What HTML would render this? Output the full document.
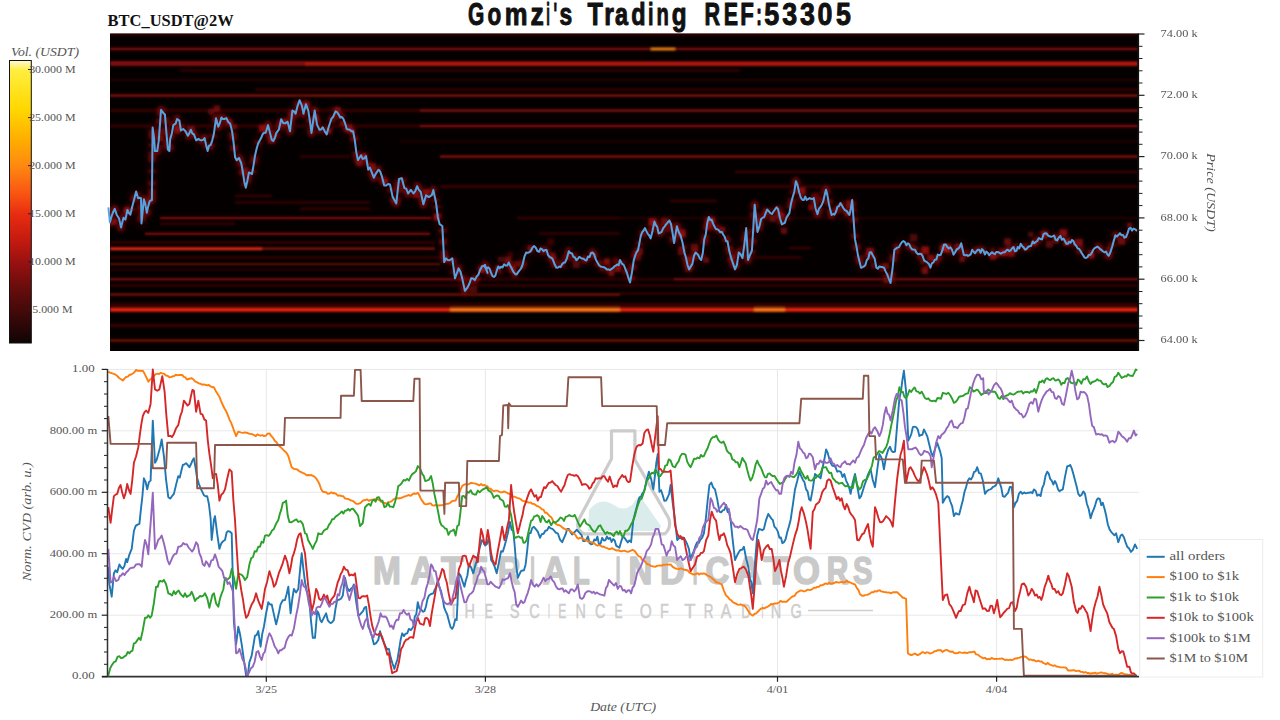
<!DOCTYPE html><html><head><meta charset="utf-8"><style>html,body{margin:0;padding:0;background:#fff;width:1280px;height:720px;overflow:hidden}svg{display:block}</style></head><body>
<svg width="1280" height="720" viewBox="0 0 1280 720" font-family='"Liberation Serif", serif'>
<defs><linearGradient id="cb" x1="0" y1="0" x2="0" y2="1"><stop offset="0" stop-color="#fff8d8"/><stop offset="0.034" stop-color="#ffee40"/><stop offset="0.17" stop-color="#ffd800"/><stop offset="0.28" stop-color="#ffae00"/><stop offset="0.37" stop-color="#ff8a10"/><stop offset="0.476" stop-color="#f85212"/><stop offset="0.547" stop-color="#e62c10"/><stop offset="0.636" stop-color="#c41a10"/><stop offset="0.724" stop-color="#941010"/><stop offset="0.81" stop-color="#660c0c"/><stop offset="0.917" stop-color="#360808"/><stop offset="1" stop-color="#100404"/></linearGradient><filter id="blur2" x="-5%" y="-5%" width="110%" height="110%"><feGaussianBlur stdDeviation="1.6"/></filter><filter id="blur3" x="-5%" y="-20%" width="110%" height="140%"><feGaussianBlur stdDeviation="3"/></filter><filter id="blur1" x="-5%" y="-50%" width="110%" height="200%"><feGaussianBlur stdDeviation="0.85"/></filter><clipPath id="hclip"><rect x="110" y="33.5" width="1029" height="317.5"/></clipPath><clipPath id="bclip"><rect x="107" y="368" width="1033" height="309.5"/></clipPath></defs>
<g font-family='"Liberation Sans", sans-serif' font-size="32" font-weight="bold" fill="#111" stroke="#111" stroke-width="1.0" stroke-linejoin="round"><text transform="translate(468.10,24.9) scale(0.655,1)">G</text><text transform="translate(487.40,24.9) scale(0.703,1)">o</text><text transform="translate(504.70,24.9) scale(0.800,1)">m</text><text transform="translate(530.50,24.9) scale(0.831,1)">z</text><text transform="translate(546.30,24.9) scale(0.404,1)">i</text><text transform="translate(553.40,24.9) scale(0.474,1)">&#39;</text><text transform="translate(559.50,24.9) scale(0.713,1)">s</text><text transform="translate(587.50,24.9) scale(0.785,1)">T</text><text transform="translate(604.30,24.9) scale(0.776,1)">r</text><text transform="translate(615.00,24.9) scale(0.733,1)">a</text><text transform="translate(631.20,24.9) scale(0.733,1)">d</text><text transform="translate(648.00,24.9) scale(0.618,1)">i</text><text transform="translate(656.50,24.9) scale(0.631,1)">n</text><text transform="translate(671.80,24.9) scale(0.759,1)">g</text><text transform="translate(704.50,24.9) scale(0.675,1)">R</text><text transform="translate(723.70,24.9) scale(0.671,1)">E</text><text transform="translate(740.30,24.9) scale(0.697,1)">F</text><text transform="translate(756.30,24.9) scale(0.523,1)">:</text><text transform="translate(764.20,24.9) scale(0.843,1)">5</text><text transform="translate(782.20,24.9) scale(0.837,1)">3</text><text transform="translate(800.10,24.9) scale(0.837,1)">3</text><text transform="translate(817.40,24.9) scale(0.837,1)">0</text><text transform="translate(836.00,24.9) scale(0.837,1)">5</text></g>
<text x="107.6" y="25.5" font-weight="bold" font-size="15.9" textLength="126" lengthAdjust="spacingAndGlyphs" fill="#111">BTC_USDT@2W</text>
<text x="11" y="56" font-style="italic" font-size="12" textLength="68" lengthAdjust="spacingAndGlyphs" fill="#555">Vol. (USDT)</text>
<rect x="9.5" y="60.5" width="21.8" height="282.5" fill="url(#cb)" stroke="#111" stroke-width="1"/>
<line x1="28" x2="31" y1="69.5" y2="69.5" stroke="#222" stroke-width="1"/>
<line x1="28" x2="31" y1="117.6" y2="117.6" stroke="#222" stroke-width="1"/>
<line x1="28" x2="31" y1="165.7" y2="165.7" stroke="#222" stroke-width="1"/>
<line x1="28" x2="31" y1="213.8" y2="213.8" stroke="#222" stroke-width="1"/>
<line x1="28" x2="31" y1="261.9" y2="261.9" stroke="#222" stroke-width="1"/>
<line x1="28" x2="31" y1="310.0" y2="310.0" stroke="#222" stroke-width="1"/>
<text x="52.4" y="72.8" text-anchor="middle" font-size="11.2" textLength="46.5" lengthAdjust="spacingAndGlyphs" fill="#555">30.000 M</text>
<text x="52.4" y="120.9" text-anchor="middle" font-size="11.2" textLength="46.5" lengthAdjust="spacingAndGlyphs" fill="#555">25.000 M</text>
<text x="52.4" y="169.0" text-anchor="middle" font-size="11.2" textLength="46.5" lengthAdjust="spacingAndGlyphs" fill="#555">20.000 M</text>
<text x="52.4" y="217.1" text-anchor="middle" font-size="11.2" textLength="46.5" lengthAdjust="spacingAndGlyphs" fill="#555">15.000 M</text>
<text x="52.4" y="265.2" text-anchor="middle" font-size="11.2" textLength="46.5" lengthAdjust="spacingAndGlyphs" fill="#555">10.000 M</text>
<text x="52.4" y="313.3" text-anchor="middle" font-size="11.2" textLength="40.2" lengthAdjust="spacingAndGlyphs" fill="#555">5.000 M</text>
<rect x="110" y="33.5" width="1029" height="317.5" fill="#040000"/>
<g clip-path="url(#hclip)"><g filter="url(#blur1)">
<rect x="110" y="33.5" width="1028" height="2.0250000000000004" fill="#420504"/>
<rect x="110" y="47.6" width="1028" height="2.7" fill="#7c0c08"/>
<rect x="651" y="47.7" width="24" height="2.6" fill="#ff8a14"/>
<rect x="110" y="61.1" width="195" height="4.8" fill="#820c0a"/>
<rect x="305" y="61.4" width="833" height="4.6" fill="#b01410"/>
<rect x="180" y="69.5" width="560" height="2.0250000000000004" fill="#420504"/>
<rect x="110" y="79.0" width="1028" height="2.0250000000000004" fill="#280303"/>
<rect x="255" y="88.5" width="883" height="2.0250000000000004" fill="#420504"/>
<rect x="110" y="94.2" width="1028" height="2.7" fill="#7c0c08"/>
<rect x="110" y="109.3" width="310" height="2.43" fill="#420504"/>
<rect x="420" y="109.2" width="718" height="2.7" fill="#7c0c08"/>
<rect x="110" y="124.8" width="310" height="2.43" fill="#420504"/>
<rect x="420" y="124.7" width="718" height="2.7" fill="#7c0c08"/>
<rect x="400" y="140.5" width="738" height="2.0250000000000004" fill="#280303"/>
<rect x="300" y="155.5" width="50" height="2.0250000000000004" fill="#420504"/>
<rect x="440" y="155.2" width="698" height="2.7" fill="#7c0c08"/>
<rect x="735" y="170.9" width="403" height="2.16" fill="#420504"/>
<rect x="440" y="185.3" width="698" height="2.43" fill="#420504"/>
<rect x="235" y="195.0" width="37" height="2.0250000000000004" fill="#420504"/>
<rect x="235" y="201.5" width="135" height="2.0250000000000004" fill="#420504"/>
<rect x="300" y="207.7" width="70" height="2.0250000000000004" fill="#420504"/>
<rect x="160" y="216.8" width="272" height="2.43" fill="#7c0c08"/>
<rect x="517" y="217.0" width="103" height="2.0250000000000004" fill="#420504"/>
<rect x="620" y="217.0" width="518" height="2.0250000000000004" fill="#280303"/>
<rect x="160" y="222.7" width="75" height="2.0250000000000004" fill="#420504"/>
<rect x="145" y="232.5" width="285" height="2.43" fill="#7c0c08"/>
<rect x="539" y="232.5" width="81" height="2.0250000000000004" fill="#420504"/>
<rect x="670" y="200.0" width="47" height="2.0250000000000004" fill="#420504"/>
<rect x="752" y="256.5" width="50" height="2.0250000000000004" fill="#420504"/>
<rect x="789" y="247.0" width="22" height="2.0250000000000004" fill="#420504"/>
<rect x="110" y="241.5" width="325" height="2.0250000000000004" fill="#420504"/>
<rect x="110" y="247.3" width="152" height="2.8" fill="#f02a12"/>
<rect x="262" y="247.3" width="173" height="2.7" fill="#7c0c08"/>
<rect x="110" y="256.5" width="330" height="2.0250000000000004" fill="#420504"/>
<rect x="110" y="263.0" width="330" height="2.43" fill="#5a0806"/>
<rect x="110" y="269.0" width="330" height="2.0250000000000004" fill="#280303"/>
<rect x="110" y="278.1" width="370" height="2.43" fill="#7c0c08"/>
<rect x="480" y="278.3" width="194" height="2.0250000000000004" fill="#420504"/>
<rect x="674" y="278.1" width="464" height="2.43" fill="#7c0c08"/>
<rect x="110" y="284.5" width="1028" height="2.0250000000000004" fill="#420504"/>
<rect x="620" y="292.5" width="518" height="2.0250000000000004" fill="#420504"/>
<rect x="110" y="293.3" width="510" height="2.43" fill="#7c0c08"/>
<rect x="110" y="303.0" width="1028" height="3" fill="#3a0606"/>
<rect x="110" y="307.7" width="1028" height="4" fill="#ee220e"/>
<rect x="450" y="307.7" width="170" height="4" fill="#ff7614"/>
<rect x="754" y="307.7" width="31" height="4" fill="#ff7614"/>
<rect x="110" y="324.3" width="1028" height="2.43" fill="#500605"/>
<rect x="110" y="339.3" width="1028" height="2.43" fill="#7c0c08"/>
</g>
<path d="M108.4,207.4 L109.9,222.5 L111.8,215.7 L114.7,208.9 L116.7,214.7 L119.1,218.6 L121.0,227.4 L123.5,217.7 L125.4,219.6 L127.4,209.9 L130.3,214.7 L134.2,199.2 L136.1,191.4 L138.1,198.2 L141.0,198.2 L141.5,223.5 L143.9,199.2 L146.8,212.8 L149.7,201.1 L151.9,200.0 L152.6,127.4 L154.2,138.9 L154.9,151.1 L157.2,151.1 L158.8,140.4 L161.0,109.9 L163.3,112.9 L164.9,114.4 L166.4,132.8 L167.9,149.6 L169.4,151.1 L170.2,138.9 L173.3,125.1 L175.6,123.6 L177.1,119.0 L179.4,120.6 L180.9,130.5 L183.2,129.0 L185.5,131.3 L187.8,135.8 L190.8,129.7 L193.9,134.3 L196.2,140.4 L198.5,138.9 L201.5,140.4 L204.6,138.1 L207.6,151.1 L210.7,145.0 L213.8,134.3 L216.0,118.3 L218.3,126.7 L221.4,117.5 L224.4,119.0 L228.3,122.1 L232.1,131.3 L235.1,157.2 L236.7,160.3 L239.0,158.0 L241.3,163.3 L244.3,181.7 L245.8,187.8 L248.9,172.5 L252.0,174.0 L255.0,155.7 L258.1,143.5 L262.6,134.3 L265.7,132.8 L268.0,125.1 L270.3,134.0 L273.2,140.9 L276.4,132.9 L278.8,129.7 L281.2,119.3 L285.2,123.3 L287.6,121.7 L290.0,131.3 L292.4,110.6 L295.6,113.8 L299.6,100.2 L301.9,105.8 L303.5,113.8 L305.9,104.2 L308.3,110.6 L311.5,132.9 L314.7,110.6 L317.1,124.9 L319.5,129.7 L322.7,127.3 L326.7,134.5 L329.9,123.3 L333.1,117.0 L335.5,111.4 L338.7,114.6 L341.9,117.0 L345.1,123.3 L346.7,128.9 L349.9,129.7 L353.1,131.3 L356.3,152.1 L357.9,160.1 L361.1,155.3 L364.2,158.5 L366.0,156.0 L368.2,169.7 L371.4,171.3 L373.8,177.7 L378.6,169.7 L381.8,176.1 L384.2,185.6 L388.2,184.0 L390.0,184.4 L392.7,197.1 L396.3,203.4 L399.0,179.0 L401.7,178.1 L404.4,188.1 L408.1,193.5 L410.8,189.9 L413.5,193.5 L417.1,186.2 L420.7,191.7 L423.4,204.3 L426.1,195.3 L428.8,197.1 L433.3,189.9 L436.0,202.5 L437.8,216.9 L439.6,224.2 L442.3,226.0 L444.2,262.1 L446.0,258.4 L449.6,260.3 L452.3,258.4 L455.0,278.3 L458.6,268.4 L462.2,278.3 L464.9,290.9 L467.6,287.3 L471.2,278.3 L474.8,280.1 L478.4,274.7 L483.9,265.7 L487.5,272.9 L485.0,265.0 L492.5,276.2 L502.5,267.5 L508.8,262.5 L515.0,273.8 L522.5,265.0 L526.2,252.5 L532.5,247.5 L537.5,251.2 L545.0,250.0 L552.5,258.8 L556.2,267.5 L565.0,262.5 L568.8,251.2 L575.0,257.5 L585.0,260.0 L592.5,252.5 L597.5,262.5 L610.0,270.0 L620.0,260.0 L623.8,265.0 L630.0,282.5 L633.8,260.0 L639.4,243.1 L645.0,228.1 L650.6,238.4 L654.4,221.6 L660.0,232.8 L669.4,220.6 L674.1,243.1 L676.9,226.3 L680.6,235.6 L684.4,252.5 L689.1,269.4 L695.6,252.5 L701.2,260.0 L708.8,216.9 L714.4,226.3 L721.9,231.9 L727.5,241.2 L731.2,258.1 L735.0,269.4 L738.8,252.5 L742.5,258.1 L746.2,228.1 L748.1,260.0 L751.9,250.6 L754.7,204.7 L757.5,231.9 L761.2,218.8 L768.8,211.2 L772.0,214.0 L778.1,209.4 L781.9,224.4 L789.4,213.1 L795.9,181.2 L802.5,200.0 L813.8,198.1 L817.5,214.1 L826.0,189.7 L831.6,215.0 L841.9,205.6 L849.4,215.0 L852.2,200.0 L855.0,239.4 L861.0,267.7 L871.2,252.3 L876.4,267.7 L884.0,267.7 L890.5,283.0 L894.4,249.7 L902.0,242.0 L915.0,249.7 L930.4,267.7 L940.7,254.8 L945.8,244.5 L953.5,254.8 L961.2,243.3 L963.8,254.8 L979.2,249.7 L992.0,252.3 L1005.0,252.3 L1017.8,247.0 L1028.0,247.0 L1035.8,242.0 L1043.5,234.3 L1051.0,236.8 L1063.5,238.6 L1074.8,244.5 L1086.0,258.0 L1097.4,246.7 L1108.7,255.7 L1115.4,235.4 L1124.5,237.7 L1133.5,228.6 L1137.0,231.0" fill="none" stroke="#3a0505" stroke-width="10" stroke-linejoin="round" filter="url(#blur3)" opacity="0.45"/>
<path d="M108.4,207.4 L109.9,222.5 L111.8,215.7 L114.7,208.9 L116.7,214.7 L119.1,218.6 L121.0,227.4 L123.5,217.7 L125.4,219.6 L127.4,209.9 L130.3,214.7 L134.2,199.2 L136.1,191.4 L138.1,198.2 L141.0,198.2 L141.5,223.5 L143.9,199.2 L146.8,212.8 L149.7,201.1 L151.9,200.0 L152.6,127.4 L154.2,138.9 L154.9,151.1 L157.2,151.1 L158.8,140.4 L161.0,109.9 L163.3,112.9 L164.9,114.4 L166.4,132.8 L167.9,149.6 L169.4,151.1 L170.2,138.9 L173.3,125.1 L175.6,123.6 L177.1,119.0 L179.4,120.6 L180.9,130.5 L183.2,129.0 L185.5,131.3 L187.8,135.8 L190.8,129.7 L193.9,134.3 L196.2,140.4 L198.5,138.9 L201.5,140.4 L204.6,138.1 L207.6,151.1 L210.7,145.0 L213.8,134.3 L216.0,118.3 L218.3,126.7 L221.4,117.5 L224.4,119.0 L228.3,122.1 L232.1,131.3 L235.1,157.2 L236.7,160.3 L239.0,158.0 L241.3,163.3 L244.3,181.7 L245.8,187.8 L248.9,172.5 L252.0,174.0 L255.0,155.7 L258.1,143.5 L262.6,134.3 L265.7,132.8 L268.0,125.1 L270.3,134.0 L273.2,140.9 L276.4,132.9 L278.8,129.7 L281.2,119.3 L285.2,123.3 L287.6,121.7 L290.0,131.3 L292.4,110.6 L295.6,113.8 L299.6,100.2 L301.9,105.8 L303.5,113.8 L305.9,104.2 L308.3,110.6 L311.5,132.9 L314.7,110.6 L317.1,124.9 L319.5,129.7 L322.7,127.3 L326.7,134.5 L329.9,123.3 L333.1,117.0 L335.5,111.4 L338.7,114.6 L341.9,117.0 L345.1,123.3 L346.7,128.9 L349.9,129.7 L353.1,131.3 L356.3,152.1 L357.9,160.1 L361.1,155.3 L364.2,158.5 L366.0,156.0 L368.2,169.7 L371.4,171.3 L373.8,177.7 L378.6,169.7 L381.8,176.1 L384.2,185.6 L388.2,184.0 L390.0,184.4 L392.7,197.1 L396.3,203.4 L399.0,179.0 L401.7,178.1 L404.4,188.1 L408.1,193.5 L410.8,189.9 L413.5,193.5 L417.1,186.2 L420.7,191.7 L423.4,204.3 L426.1,195.3 L428.8,197.1 L433.3,189.9 L436.0,202.5 L437.8,216.9 L439.6,224.2 L442.3,226.0 L444.2,262.1 L446.0,258.4 L449.6,260.3 L452.3,258.4 L455.0,278.3 L458.6,268.4 L462.2,278.3 L464.9,290.9 L467.6,287.3 L471.2,278.3 L474.8,280.1 L478.4,274.7 L483.9,265.7 L487.5,272.9 L485.0,265.0 L492.5,276.2 L502.5,267.5 L508.8,262.5 L515.0,273.8 L522.5,265.0 L526.2,252.5 L532.5,247.5 L537.5,251.2 L545.0,250.0 L552.5,258.8 L556.2,267.5 L565.0,262.5 L568.8,251.2 L575.0,257.5 L585.0,260.0 L592.5,252.5 L597.5,262.5 L610.0,270.0 L620.0,260.0 L623.8,265.0 L630.0,282.5 L633.8,260.0 L639.4,243.1 L645.0,228.1 L650.6,238.4 L654.4,221.6 L660.0,232.8 L669.4,220.6 L674.1,243.1 L676.9,226.3 L680.6,235.6 L684.4,252.5 L689.1,269.4 L695.6,252.5 L701.2,260.0 L708.8,216.9 L714.4,226.3 L721.9,231.9 L727.5,241.2 L731.2,258.1 L735.0,269.4 L738.8,252.5 L742.5,258.1 L746.2,228.1 L748.1,260.0 L751.9,250.6 L754.7,204.7 L757.5,231.9 L761.2,218.8 L768.8,211.2 L772.0,214.0 L778.1,209.4 L781.9,224.4 L789.4,213.1 L795.9,181.2 L802.5,200.0 L813.8,198.1 L817.5,214.1 L826.0,189.7 L831.6,215.0 L841.9,205.6 L849.4,215.0 L852.2,200.0 L855.0,239.4 L861.0,267.7 L871.2,252.3 L876.4,267.7 L884.0,267.7 L890.5,283.0 L894.4,249.7 L902.0,242.0 L915.0,249.7 L930.4,267.7 L940.7,254.8 L945.8,244.5 L953.5,254.8 L961.2,243.3 L963.8,254.8 L979.2,249.7 L992.0,252.3 L1005.0,252.3 L1017.8,247.0 L1028.0,247.0 L1035.8,242.0 L1043.5,234.3 L1051.0,236.8 L1063.5,238.6 L1074.8,244.5 L1086.0,258.0 L1097.4,246.7 L1108.7,255.7 L1115.4,235.4 L1124.5,237.7 L1133.5,228.6 L1137.0,231.0" fill="none" stroke="#9a1010" stroke-width="8" stroke-dasharray="6 8 3 4 3 5 5 12 4 6 6 6 8 6 3 6 6 6 3 12 5 6 6 5 10 10 8 5 6 10 12 3 5 8 3 8 10 5 3 6 8 12 3 10 10 4 12 5 5 3 10 5 6 4 8 3 10 4 6 5" stroke-linejoin="round" filter="url(#blur2)" opacity="0.55"/>
<g filter="url(#blur2)"><rect x="104.2" y="196.7" width="5.4" height="5.4" fill="#8a1010" opacity="0.72"/><rect x="111.6" y="218.5" width="6.1" height="6.1" fill="#b01414" opacity="0.71"/><rect x="124.6" y="208.0" width="5.0" height="5.0" fill="#b01414" opacity="0.84"/><rect x="147.0" y="198.1" width="6.1" height="6.1" fill="#8a1010" opacity="0.62"/><rect x="144.6" y="201.0" width="5.7" height="5.7" fill="#8a1010" opacity="0.53"/><rect x="156.7" y="135.5" width="5.9" height="5.9" fill="#9a1212" opacity="0.53"/><rect x="173.8" y="126.8" width="6.8" height="6.8" fill="#b01414" opacity="0.75"/><rect x="174.5" y="120.0" width="5.4" height="5.4" fill="#780c0c" opacity="0.76"/><rect x="187.3" y="126.0" width="7.5" height="7.5" fill="#8a1010" opacity="0.79"/><rect x="208.3" y="108.7" width="6.1" height="6.1" fill="#8a1010" opacity="0.63"/><rect x="213.6" y="105.5" width="6.6" height="6.6" fill="#9a1212" opacity="0.67"/><rect x="226.1" y="119.4" width="6.5" height="6.5" fill="#8a1010" opacity="0.73"/><rect x="231.9" y="124.2" width="5.2" height="5.2" fill="#b01414" opacity="0.58"/><rect x="240.5" y="167.3" width="7.5" height="7.5" fill="#8a1010" opacity="0.67"/><rect x="258.6" y="124.8" width="7.2" height="7.2" fill="#b01414" opacity="0.72"/><rect x="267.6" y="135.8" width="7.9" height="7.9" fill="#8a1010" opacity="0.74"/><rect x="280.2" y="119.3" width="6.4" height="6.4" fill="#8a1010" opacity="0.85"/><rect x="288.5" y="110.4" width="5.9" height="5.9" fill="#8a1010" opacity="0.79"/><rect x="302.1" y="101.5" width="7.8" height="7.8" fill="#9a1212" opacity="0.53"/><rect x="312.5" y="114.2" width="6.1" height="6.1" fill="#b01414" opacity="0.81"/><rect x="326.1" y="128.6" width="5.1" height="5.1" fill="#8a1010" opacity="0.83"/><rect x="334.7" y="106.8" width="6.1" height="6.1" fill="#8a1010" opacity="0.79"/><rect x="340.1" y="120.9" width="5.4" height="5.4" fill="#9a1212" opacity="0.75"/><rect x="344.6" y="123.8" width="8.0" height="8.0" fill="#8a1010" opacity="0.63"/><rect x="349.8" y="128.8" width="5.3" height="5.3" fill="#b01414" opacity="0.72"/><rect x="361.2" y="153.6" width="5.9" height="5.9" fill="#b01414" opacity="0.77"/><rect x="356.4" y="160.1" width="6.2" height="6.2" fill="#9a1212" opacity="0.75"/><rect x="368.5" y="163.0" width="7.3" height="7.3" fill="#b01414" opacity="0.67"/><rect x="382.5" y="178.7" width="5.8" height="5.8" fill="#b01414" opacity="0.64"/><rect x="389.9" y="197.5" width="5.4" height="5.4" fill="#9a1212" opacity="0.53"/><rect x="414.1" y="191.7" width="6.3" height="6.3" fill="#9a1212" opacity="0.59"/><rect x="423.6" y="189.0" width="6.1" height="6.1" fill="#9a1212" opacity="0.81"/><rect x="433.9" y="214.3" width="6.1" height="6.1" fill="#b01414" opacity="0.76"/><rect x="441.4" y="256.1" width="7.1" height="7.1" fill="#9a1212" opacity="0.53"/><rect x="455.3" y="269.3" width="5.9" height="5.9" fill="#8a1010" opacity="0.54"/><rect x="460.9" y="279.8" width="7.9" height="7.9" fill="#780c0c" opacity="0.50"/><rect x="469.9" y="285.8" width="7.6" height="7.6" fill="#780c0c" opacity="0.59"/><rect x="467.8" y="277.0" width="7.0" height="7.0" fill="#780c0c" opacity="0.53"/><rect x="479.4" y="266.8" width="5.1" height="5.1" fill="#b01414" opacity="0.84"/><rect x="495.0" y="265.4" width="5.9" height="5.9" fill="#9a1212" opacity="0.64"/><rect x="497.7" y="256.4" width="5.9" height="5.9" fill="#780c0c" opacity="0.60"/><rect x="504.2" y="256.3" width="6.6" height="6.6" fill="#9a1212" opacity="0.51"/><rect x="507.5" y="251.7" width="5.6" height="5.6" fill="#780c0c" opacity="0.53"/><rect x="509.4" y="266.3" width="6.5" height="6.5" fill="#b01414" opacity="0.75"/><rect x="514.0" y="260.6" width="5.9" height="5.9" fill="#8a1010" opacity="0.57"/><rect x="528.2" y="245.2" width="5.7" height="5.7" fill="#b01414" opacity="0.54"/><rect x="547.2" y="238.5" width="6.8" height="6.8" fill="#780c0c" opacity="0.52"/><rect x="548.4" y="252.5" width="7.1" height="7.1" fill="#9a1212" opacity="0.64"/><rect x="572.5" y="261.0" width="7.2" height="7.2" fill="#8a1010" opacity="0.61"/><rect x="591.0" y="252.3" width="5.2" height="5.2" fill="#780c0c" opacity="0.83"/><rect x="603.8" y="258.6" width="6.1" height="6.1" fill="#b01414" opacity="0.79"/><rect x="599.3" y="265.8" width="6.1" height="6.1" fill="#780c0c" opacity="0.57"/><rect x="612.3" y="257.5" width="6.2" height="6.2" fill="#780c0c" opacity="0.51"/><rect x="608.5" y="270.4" width="5.8" height="5.8" fill="#8a1010" opacity="0.81"/><rect x="614.3" y="264.8" width="6.9" height="6.9" fill="#b01414" opacity="0.76"/><rect x="633.7" y="253.5" width="7.4" height="7.4" fill="#8a1010" opacity="0.51"/><rect x="635.2" y="247.4" width="7.9" height="7.9" fill="#780c0c" opacity="0.78"/><rect x="648.6" y="218.2" width="7.8" height="7.8" fill="#b01414" opacity="0.79"/><rect x="660.8" y="218.0" width="7.3" height="7.3" fill="#8a1010" opacity="0.68"/><rect x="664.1" y="218.8" width="6.9" height="6.9" fill="#780c0c" opacity="0.69"/><rect x="677.7" y="229.2" width="8.0" height="8.0" fill="#b01414" opacity="0.72"/><rect x="677.8" y="247.3" width="7.9" height="7.9" fill="#9a1212" opacity="0.58"/><rect x="685.1" y="264.5" width="7.2" height="7.2" fill="#8a1010" opacity="0.77"/><rect x="687.3" y="256.9" width="5.8" height="5.8" fill="#b01414" opacity="0.57"/><rect x="690.6" y="243.6" width="7.7" height="7.7" fill="#9a1212" opacity="0.61"/><rect x="703.3" y="257.3" width="5.7" height="5.7" fill="#8a1010" opacity="0.73"/><rect x="706.1" y="221.9" width="7.5" height="7.5" fill="#b01414" opacity="0.51"/><rect x="706.6" y="216.8" width="7.9" height="7.9" fill="#9a1212" opacity="0.83"/><rect x="719.7" y="226.5" width="5.8" height="5.8" fill="#8a1010" opacity="0.54"/><rect x="729.0" y="254.3" width="5.6" height="5.6" fill="#b01414" opacity="0.51"/><rect x="757.4" y="218.3" width="5.2" height="5.2" fill="#8a1010" opacity="0.78"/><rect x="763.1" y="207.9" width="6.7" height="6.7" fill="#8a1010" opacity="0.73"/><rect x="769.3" y="214.8" width="7.0" height="7.0" fill="#780c0c" opacity="0.83"/><rect x="777.5" y="212.6" width="6.2" height="6.2" fill="#b01414" opacity="0.73"/><rect x="780.8" y="227.6" width="6.3" height="6.3" fill="#9a1212" opacity="0.65"/><rect x="795.4" y="188.3" width="5.5" height="5.5" fill="#8a1010" opacity="0.52"/><rect x="798.9" y="187.3" width="6.7" height="6.7" fill="#b01414" opacity="0.76"/><rect x="799.6" y="191.0" width="5.5" height="5.5" fill="#8a1010" opacity="0.54"/><rect x="808.4" y="204.8" width="5.6" height="5.6" fill="#9a1212" opacity="0.79"/><rect x="813.1" y="192.3" width="6.8" height="6.8" fill="#780c0c" opacity="0.53"/><rect x="845.1" y="211.5" width="5.1" height="5.1" fill="#9a1212" opacity="0.63"/><rect x="845.8" y="200.2" width="7.7" height="7.7" fill="#8a1010" opacity="0.81"/><rect x="866.3" y="247.7" width="7.5" height="7.5" fill="#b01414" opacity="0.73"/><rect x="870.8" y="262.7" width="6.1" height="6.1" fill="#780c0c" opacity="0.56"/><rect x="882.7" y="263.2" width="6.3" height="6.3" fill="#780c0c" opacity="0.79"/><rect x="883.1" y="277.4" width="6.1" height="6.1" fill="#780c0c" opacity="0.68"/><rect x="893.8" y="248.9" width="5.9" height="5.9" fill="#8a1010" opacity="0.52"/><rect x="909.9" y="234.0" width="7.6" height="7.6" fill="#8a1010" opacity="0.57"/><rect x="919.9" y="258.9" width="5.5" height="5.5" fill="#9a1212" opacity="0.52"/><rect x="921.4" y="246.3" width="7.7" height="7.7" fill="#b01414" opacity="0.82"/><rect x="921.6" y="267.5" width="6.4" height="6.4" fill="#b01414" opacity="0.72"/><rect x="927.5" y="254.7" width="6.2" height="6.2" fill="#b01414" opacity="0.74"/><rect x="940.3" y="244.6" width="6.6" height="6.6" fill="#b01414" opacity="0.84"/><rect x="942.2" y="244.1" width="7.7" height="7.7" fill="#b01414" opacity="0.85"/><rect x="954.0" y="244.3" width="8.0" height="8.0" fill="#9a1212" opacity="0.63"/><rect x="959.4" y="257.2" width="5.1" height="5.1" fill="#b01414" opacity="0.61"/><rect x="989.7" y="253.3" width="6.3" height="6.3" fill="#b01414" opacity="0.81"/><rect x="994.0" y="252.8" width="5.1" height="5.1" fill="#8a1010" opacity="0.70"/><rect x="1000.7" y="249.8" width="6.2" height="6.2" fill="#b01414" opacity="0.71"/><rect x="1006.4" y="246.7" width="5.4" height="5.4" fill="#9a1212" opacity="0.75"/><rect x="1004.2" y="238.4" width="7.0" height="7.0" fill="#b01414" opacity="0.64"/><rect x="1008.1" y="250.1" width="6.7" height="6.7" fill="#b01414" opacity="0.71"/><rect x="1028.3" y="231.7" width="5.2" height="5.2" fill="#8a1010" opacity="0.64"/><rect x="1031.9" y="240.6" width="5.0" height="5.0" fill="#9a1212" opacity="0.55"/><rect x="1041.1" y="231.0" width="6.9" height="6.9" fill="#9a1212" opacity="0.68"/><rect x="1045.7" y="240.6" width="7.2" height="7.2" fill="#780c0c" opacity="0.75"/><rect x="1052.8" y="237.6" width="6.4" height="6.4" fill="#780c0c" opacity="0.56"/><rect x="1059.5" y="229.2" width="7.7" height="7.7" fill="#b01414" opacity="0.75"/><rect x="1063.2" y="238.8" width="7.4" height="7.4" fill="#b01414" opacity="0.60"/><rect x="1075.2" y="238.9" width="7.7" height="7.7" fill="#9a1212" opacity="0.83"/><rect x="1088.4" y="251.2" width="5.7" height="5.7" fill="#780c0c" opacity="0.67"/><rect x="1088.4" y="252.8" width="5.7" height="5.7" fill="#b01414" opacity="0.78"/><rect x="1098.3" y="247.5" width="5.5" height="5.5" fill="#8a1010" opacity="0.51"/><rect x="1106.0" y="246.8" width="5.4" height="5.4" fill="#8a1010" opacity="0.51"/><rect x="1107.5" y="244.9" width="5.2" height="5.2" fill="#8a1010" opacity="0.52"/><rect x="1117.8" y="237.0" width="7.7" height="7.7" fill="#8a1010" opacity="0.81"/><rect x="1126.9" y="222.7" width="5.1" height="5.1" fill="#8a1010" opacity="0.79"/></g>
</g>
<path d="M108.4,207.4 L109.9,222.5 L111.8,215.7 L113.2,211.9 L114.7,208.9 L116.7,214.7 L119.1,218.6 L121.0,227.4 L123.5,217.7 L125.4,219.6 L127.4,209.9 L128.9,213.1 L130.3,214.7 L132.2,206.7 L134.2,199.2 L136.1,191.4 L138.1,198.2 L139.6,197.7 L141.0,198.2 L141.5,223.5 L143.9,199.2 L145.4,204.6 L146.8,212.8 L148.2,206.4 L149.7,201.1 L151.9,200.0 L152.6,127.4 L154.2,138.9 L154.9,151.1 L157.2,151.1 L158.8,140.4 L161.0,109.9 L163.3,112.9 L164.9,114.4 L166.4,132.8 L167.9,149.6 L169.4,151.1 L170.2,138.9 L171.8,133.7 L173.3,125.1 L175.6,123.6 L177.1,119.0 L179.4,120.6 L180.9,130.5 L183.2,129.0 L185.5,131.3 L187.8,135.8 L189.3,133.4 L190.8,129.7 L192.4,133.7 L193.9,134.3 L196.2,140.4 L198.5,138.9 L200.0,140.0 L201.5,140.4 L203.1,139.9 L204.6,138.1 L206.1,145.0 L207.6,151.1 L209.1,145.6 L210.7,145.0 L212.2,140.6 L213.8,134.3 L216.0,118.3 L218.3,126.7 L219.9,122.9 L221.4,117.5 L222.9,119.1 L224.4,119.0 L226.4,118.1 L228.3,122.1 L230.2,123.7 L232.1,131.3 L233.6,142.5 L235.1,157.2 L236.7,160.3 L239.0,158.0 L241.3,163.3 L242.8,171.8 L244.3,181.7 L245.8,187.8 L247.4,180.6 L248.9,172.5 L250.4,173.2 L252.0,174.0 L253.5,165.6 L255.0,155.7 L256.6,148.8 L258.1,143.5 L259.6,140.8 L261.1,138.1 L262.6,134.3 L264.1,132.7 L265.7,132.8 L268.0,125.1 L270.3,134.0 L271.8,140.0 L273.2,140.9 L274.8,138.1 L276.4,132.9 L278.8,129.7 L281.2,119.3 L283.2,123.1 L285.2,123.3 L287.6,121.7 L290.0,131.3 L292.4,110.6 L294.0,111.3 L295.6,113.8 L297.6,105.8 L299.6,100.2 L301.9,105.8 L303.5,113.8 L305.9,104.2 L308.3,110.6 L309.9,121.2 L311.5,132.9 L313.1,121.5 L314.7,110.6 L317.1,124.9 L319.5,129.7 L321.1,129.4 L322.7,127.3 L324.7,131.4 L326.7,134.5 L328.3,128.3 L329.9,123.3 L331.5,118.6 L333.1,117.0 L335.5,111.4 L337.1,112.2 L338.7,114.6 L340.3,117.5 L341.9,117.0 L343.5,119.2 L345.1,123.3 L346.7,128.9 L348.3,129.6 L349.9,129.7 L351.5,131.2 L353.1,131.3 L354.7,139.6 L356.3,152.1 L357.9,160.1 L359.5,157.7 L361.1,155.3 L362.6,158.9 L364.2,158.5 L366.0,156.0 L368.2,169.7 L369.8,167.5 L371.4,171.3 L373.8,177.7 L375.4,174.4 L377.0,171.9 L378.6,169.7 L380.2,171.6 L381.8,176.1 L384.2,185.6 L386.2,185.5 L388.2,184.0 L390.0,184.4 L392.7,197.1 L394.5,200.2 L396.3,203.4 L399.0,179.0 L401.7,178.1 L404.4,188.1 L406.2,188.6 L408.1,193.5 L410.8,189.9 L413.5,193.5 L415.3,191.1 L417.1,186.2 L418.9,190.1 L420.7,191.7 L423.4,204.3 L426.1,195.3 L428.8,197.1 L430.3,196.1 L431.8,195.2 L433.3,189.9 L436.0,202.5 L437.8,216.9 L439.6,224.2 L442.3,226.0 L444.2,262.1 L446.0,258.4 L447.8,259.9 L449.6,260.3 L452.3,258.4 L455.0,278.3 L456.8,273.5 L458.6,268.4 L460.4,271.4 L462.2,278.3 L464.9,290.9 L467.6,287.3 L469.4,283.7 L471.2,278.3 L473.0,278.4 L474.8,280.1 L476.6,276.6 L478.4,274.7 L480.2,269.7 L482.1,266.2 L483.9,265.7 L485.7,268.1 L487.5,272.9 L485.0,265.0 L486.5,269.1 L488.0,267.4 L489.5,268.5 L491.0,272.7 L492.5,276.2 L493.9,277.0 L495.4,275.6 L496.8,270.6 L498.2,266.5 L499.6,268.2 L501.1,266.7 L502.5,267.5 L504.1,264.3 L505.6,265.5 L507.2,265.6 L508.8,262.5 L510.3,265.8 L511.9,268.8 L513.4,271.9 L515.0,273.8 L516.5,274.5 L518.0,272.4 L519.5,270.4 L521.0,268.5 L522.5,265.0 L524.4,256.7 L526.2,252.5 L527.8,252.9 L529.4,252.2 L530.9,250.7 L532.5,247.5 L534.2,246.1 L535.8,247.7 L537.5,251.2 L539.0,251.9 L540.5,248.5 L542.0,249.1 L543.5,251.1 L545.0,250.0 L546.5,249.9 L548.0,255.0 L549.5,256.8 L551.0,257.6 L552.5,258.8 L554.4,263.7 L556.2,267.5 L557.7,267.7 L559.2,266.5 L560.6,267.1 L562.1,264.2 L563.5,262.7 L565.0,262.5 L566.9,258.3 L568.8,251.2 L570.3,253.1 L571.9,253.2 L573.4,256.8 L575.0,257.5 L576.4,260.2 L577.9,258.7 L579.3,256.7 L580.7,257.8 L582.1,258.5 L583.6,258.8 L585.0,260.0 L586.5,260.5 L588.0,256.5 L589.5,257.1 L591.0,252.9 L592.5,252.5 L594.2,254.5 L595.8,259.4 L597.5,262.5 L599.1,265.2 L600.6,266.5 L602.2,266.9 L603.8,267.3 L605.3,267.9 L606.9,269.4 L608.4,269.4 L610.0,270.0 L611.4,269.0 L612.9,268.2 L614.3,266.3 L615.7,265.7 L617.1,264.4 L618.6,265.2 L620.0,260.0 L621.9,263.6 L623.8,265.0 L625.3,268.9 L626.9,272.9 L628.4,277.7 L630.0,282.5 L631.9,272.6 L633.8,260.0 L635.2,255.5 L636.6,252.0 L638.0,250.3 L639.4,243.1 L640.8,235.9 L642.2,232.2 L643.6,230.5 L645.0,228.1 L646.4,231.1 L647.8,233.8 L649.2,235.5 L650.6,238.4 L652.5,230.9 L654.4,221.6 L655.8,225.0 L657.2,226.7 L658.6,233.4 L660.0,232.8 L661.6,231.8 L663.1,228.4 L664.7,226.4 L666.3,224.2 L667.8,222.3 L669.4,220.6 L671.0,224.0 L672.5,232.8 L674.1,243.1 L676.9,226.3 L678.8,232.3 L680.6,235.6 L682.5,242.5 L684.4,252.5 L686.0,257.8 L687.5,265.0 L689.1,269.4 L690.7,266.6 L692.4,263.9 L694.0,255.7 L695.6,252.5 L697.0,253.7 L698.4,255.4 L699.8,258.6 L701.2,260.0 L702.8,253.1 L704.2,239.6 L705.8,234.2 L707.2,223.4 L708.8,216.9 L710.2,220.0 L711.6,219.7 L713.0,223.3 L714.4,226.3 L715.9,229.1 L717.4,229.2 L718.9,230.3 L720.4,232.3 L721.9,231.9 L723.3,234.7 L724.7,236.7 L726.1,241.3 L727.5,241.2 L729.4,251.6 L731.2,258.1 L733.1,263.6 L735.0,269.4 L736.9,265.0 L738.8,252.5 L740.6,254.2 L742.5,258.1 L744.4,244.3 L746.2,228.1 L748.1,260.0 L750.0,255.0 L751.9,250.6 L753.3,227.8 L754.7,204.7 L757.5,231.9 L759.4,226.4 L761.2,218.8 L762.8,217.7 L764.2,217.0 L765.8,212.6 L767.2,209.6 L768.8,211.2 L770.4,213.1 L772.0,214.0 L773.5,211.5 L775.0,209.5 L776.6,207.2 L778.1,209.4 L780.0,218.3 L781.9,224.4 L783.4,223.5 L784.9,222.8 L786.4,217.7 L787.9,215.4 L789.4,213.1 L791.0,203.4 L792.6,197.5 L794.3,191.7 L795.9,181.2 L797.5,185.0 L799.2,192.5 L800.9,197.7 L802.5,200.0 L803.9,199.9 L805.3,196.6 L806.7,199.9 L808.1,199.2 L809.5,198.0 L810.9,198.8 L812.3,199.0 L813.8,198.1 L815.6,208.5 L817.5,214.1 L818.9,208.9 L820.3,207.1 L821.8,204.7 L823.2,201.4 L824.6,195.3 L826.0,189.7 L827.4,195.1 L828.8,203.4 L830.2,209.4 L831.6,215.0 L833.1,214.0 L834.5,214.6 L836.0,211.7 L837.5,206.6 L839.0,206.2 L840.4,203.1 L841.9,205.6 L843.4,208.1 L844.9,210.2 L846.4,210.7 L847.9,212.8 L849.4,215.0 L850.8,208.7 L852.2,200.0 L855.0,239.4 L856.5,246.6 L858.0,255.6 L859.5,261.6 L861.0,267.7 L862.5,267.2 L863.9,266.4 L865.4,265.1 L866.8,259.9 L868.3,258.5 L869.7,252.6 L871.2,252.3 L872.9,255.5 L874.7,258.7 L876.4,267.7 L877.9,268.7 L879.4,266.4 L881.0,267.0 L882.5,267.1 L884.0,267.7 L885.6,271.4 L887.2,274.4 L888.9,279.0 L890.5,283.0 L892.5,269.0 L894.4,249.7 L895.9,248.6 L897.4,247.6 L899.0,247.1 L900.5,244.3 L902.0,242.0 L903.4,241.1 L904.9,242.0 L906.3,245.3 L907.8,243.3 L909.2,244.3 L910.7,247.7 L912.1,249.4 L913.6,249.6 L915.0,249.7 L916.5,252.8 L918.1,254.2 L919.6,253.8 L921.2,253.9 L922.7,256.2 L924.2,260.7 L925.8,261.5 L927.3,262.4 L928.9,263.9 L930.4,267.7 L931.9,263.3 L933.3,262.5 L934.8,259.7 L936.3,259.6 L937.8,254.6 L939.2,255.2 L940.7,254.8 L942.4,250.2 L944.1,244.4 L945.8,244.5 L947.3,247.1 L948.9,248.5 L950.4,247.3 L952.0,249.7 L953.5,254.8 L955.0,252.5 L956.6,249.5 L958.1,248.7 L959.7,247.1 L961.2,243.3 L963.8,254.8 L965.2,255.4 L966.6,254.9 L968.0,255.9 L969.4,255.2 L970.8,254.3 L972.2,249.8 L973.6,251.8 L975.0,253.2 L976.4,251.2 L977.8,249.8 L979.2,249.7 L980.6,252.8 L982.0,249.1 L983.5,250.7 L984.9,254.5 L986.3,251.6 L987.7,252.7 L989.2,255.2 L990.6,253.6 L992.0,252.3 L993.4,253.4 L994.9,254.2 L996.3,251.9 L997.8,252.0 L999.2,252.6 L1000.7,253.7 L1002.1,252.9 L1003.6,252.3 L1005.0,252.3 L1006.4,250.2 L1007.8,249.8 L1009.3,251.2 L1010.7,250.4 L1012.1,248.3 L1013.5,247.0 L1015.0,251.3 L1016.4,250.9 L1017.8,247.0 L1019.3,248.4 L1020.7,243.8 L1022.2,246.3 L1023.6,247.4 L1025.1,249.7 L1026.5,249.0 L1028.0,247.0 L1029.6,246.2 L1031.1,245.9 L1032.7,241.5 L1034.2,243.3 L1035.8,242.0 L1037.3,241.0 L1038.9,238.1 L1040.4,239.0 L1042.0,239.4 L1043.5,234.3 L1045.0,233.2 L1046.5,233.5 L1048.0,235.3 L1049.5,236.3 L1051.0,236.8 L1052.6,236.4 L1054.1,235.5 L1055.7,239.8 L1057.2,240.4 L1058.8,237.5 L1060.4,235.9 L1061.9,239.8 L1063.5,238.6 L1064.9,241.0 L1066.3,243.7 L1067.7,243.8 L1069.2,241.7 L1070.6,242.8 L1072.0,240.0 L1073.4,241.1 L1074.8,244.5 L1076.2,245.7 L1077.6,248.4 L1079.0,248.7 L1080.4,250.7 L1081.8,253.3 L1083.2,255.4 L1084.6,257.6 L1086.0,258.0 L1087.4,257.1 L1088.8,254.9 L1090.3,254.8 L1091.7,253.0 L1093.1,250.0 L1094.6,248.1 L1096.0,247.4 L1097.4,246.7 L1098.8,247.6 L1100.2,249.1 L1101.6,250.1 L1103.1,251.5 L1104.5,252.3 L1105.9,251.5 L1107.3,254.2 L1108.7,255.7 L1110.4,252.2 L1112.1,247.0 L1113.7,240.9 L1115.4,235.4 L1116.9,236.5 L1118.4,235.1 L1120.0,233.2 L1121.5,235.3 L1123.0,235.1 L1124.5,237.7 L1126.0,237.0 L1127.5,233.4 L1129.0,228.6 L1130.5,227.8 L1132.0,230.6 L1133.5,228.6 L1135.2,229.3 L1137.0,231.0" fill="none" stroke="#55a2e0" stroke-width="2.0" stroke-linejoin="round"/>
<line x1="1138.3" x2="1138.3" y1="33.5" y2="351" stroke="#111" stroke-width="1.6"/>
<line x1="1139" x2="1144.5" y1="340.5" y2="340.5" stroke="#222" stroke-width="1.2"/>
<text x="1160.6" y="343.3" font-size="11" textLength="37" lengthAdjust="spacingAndGlyphs" fill="#555">64.00 k</text>
<line x1="1139" x2="1144.5" y1="279.2" y2="279.2" stroke="#222" stroke-width="1.2"/>
<text x="1160.6" y="282.0" font-size="11" textLength="37" lengthAdjust="spacingAndGlyphs" fill="#555">66.00 k</text>
<line x1="1139" x2="1144.5" y1="217.9" y2="217.9" stroke="#222" stroke-width="1.2"/>
<text x="1160.6" y="220.7" font-size="11" textLength="37" lengthAdjust="spacingAndGlyphs" fill="#555">68.00 k</text>
<line x1="1139" x2="1144.5" y1="156.6" y2="156.6" stroke="#222" stroke-width="1.2"/>
<text x="1160.6" y="159.4" font-size="11" textLength="37" lengthAdjust="spacingAndGlyphs" fill="#555">70.00 k</text>
<line x1="1139" x2="1144.5" y1="95.3" y2="95.3" stroke="#222" stroke-width="1.2"/>
<text x="1160.6" y="98.1" font-size="11" textLength="37" lengthAdjust="spacingAndGlyphs" fill="#555">72.00 k</text>
<line x1="1139" x2="1144.5" y1="34.0" y2="34.0" stroke="#222" stroke-width="1.2"/>
<text x="1160.6" y="36.8" font-size="11" textLength="37" lengthAdjust="spacingAndGlyphs" fill="#555">74.00 k</text>
<line x1="1139" x2="1142.5" y1="328.2" y2="328.2" stroke="#222" stroke-width="1"/>
<line x1="1139" x2="1142.5" y1="316.0" y2="316.0" stroke="#222" stroke-width="1"/>
<line x1="1139" x2="1142.5" y1="303.7" y2="303.7" stroke="#222" stroke-width="1"/>
<line x1="1139" x2="1142.5" y1="291.5" y2="291.5" stroke="#222" stroke-width="1"/>
<line x1="1139" x2="1142.5" y1="266.9" y2="266.9" stroke="#222" stroke-width="1"/>
<line x1="1139" x2="1142.5" y1="254.7" y2="254.7" stroke="#222" stroke-width="1"/>
<line x1="1139" x2="1142.5" y1="242.4" y2="242.4" stroke="#222" stroke-width="1"/>
<line x1="1139" x2="1142.5" y1="230.2" y2="230.2" stroke="#222" stroke-width="1"/>
<line x1="1139" x2="1142.5" y1="205.6" y2="205.6" stroke="#222" stroke-width="1"/>
<line x1="1139" x2="1142.5" y1="193.4" y2="193.4" stroke="#222" stroke-width="1"/>
<line x1="1139" x2="1142.5" y1="181.1" y2="181.1" stroke="#222" stroke-width="1"/>
<line x1="1139" x2="1142.5" y1="168.9" y2="168.9" stroke="#222" stroke-width="1"/>
<line x1="1139" x2="1142.5" y1="144.3" y2="144.3" stroke="#222" stroke-width="1"/>
<line x1="1139" x2="1142.5" y1="132.1" y2="132.1" stroke="#222" stroke-width="1"/>
<line x1="1139" x2="1142.5" y1="119.8" y2="119.8" stroke="#222" stroke-width="1"/>
<line x1="1139" x2="1142.5" y1="107.6" y2="107.6" stroke="#222" stroke-width="1"/>
<line x1="1139" x2="1142.5" y1="83.0" y2="83.0" stroke="#222" stroke-width="1"/>
<line x1="1139" x2="1142.5" y1="70.8" y2="70.8" stroke="#222" stroke-width="1"/>
<line x1="1139" x2="1142.5" y1="58.5" y2="58.5" stroke="#222" stroke-width="1"/>
<line x1="1139" x2="1142.5" y1="46.3" y2="46.3" stroke="#222" stroke-width="1"/>
<text transform="translate(1207,192.5) rotate(90)" text-anchor="middle" font-style="italic" font-size="12.2" textLength="78.5" lengthAdjust="spacingAndGlyphs" fill="#555">Price (USDT)</text>
<line x1="107.5" x2="1139" y1="676.6" y2="676.6" stroke="#e8e8e8" stroke-width="1"/>
<line x1="107.5" x2="1139" y1="615.2" y2="615.2" stroke="#e8e8e8" stroke-width="1"/>
<line x1="107.5" x2="1139" y1="553.7" y2="553.7" stroke="#e8e8e8" stroke-width="1"/>
<line x1="107.5" x2="1139" y1="492.3" y2="492.3" stroke="#e8e8e8" stroke-width="1"/>
<line x1="107.5" x2="1139" y1="430.8" y2="430.8" stroke="#e8e8e8" stroke-width="1"/>
<line x1="107.5" x2="1139" y1="369.4" y2="369.4" stroke="#e8e8e8" stroke-width="1"/>
<line x1="266.3" x2="266.3" y1="369.4" y2="676.6" stroke="#e8e8e8" stroke-width="1"/>
<line x1="485.4" x2="485.4" y1="369.4" y2="676.6" stroke="#e8e8e8" stroke-width="1"/>
<line x1="777.5" x2="777.5" y1="369.4" y2="676.6" stroke="#e8e8e8" stroke-width="1"/>
<line x1="996.6" x2="996.6" y1="369.4" y2="676.6" stroke="#e8e8e8" stroke-width="1"/>
<g fill="none" stroke="#cccccc" stroke-width="3.2" stroke-linejoin="round">
<path d="M611.5,458.8 L611.5,430.8 L634.9,430.8 L634.9,459.7 L668.5,518 Q672,527 665,533.8 L584,533.8 Q575,530 579,519 Z"/>
</g>
<path d="M588,531 L589,510 Q600,496 614,505 Q623,512 632,505 Q637,497 640,496 L661,526 Q660,531 655,531 Z" fill="#dbecec"/>
<g font-family='"Liberation Sans", sans-serif' font-weight="bold" font-size="38.5" fill="#c9c9c9" stroke="#c9c9c9" stroke-width="1.6" stroke-linejoin="round"><text transform="translate(372.90,583.6) scale(0.869,1)">M</text><text transform="translate(410.50,583.6) scale(0.892,1)">A</text><text transform="translate(441.00,583.6) scale(0.966,1)">T</text><text transform="translate(471.40,583.6) scale(0.650,1)">E</text><text transform="translate(497.80,583.6) scale(0.820,1)">R</text><text transform="translate(530.30,583.6) scale(0.421,1)">I</text><text transform="translate(542.50,583.6) scale(0.892,1)">A</text><text transform="translate(573.00,583.6) scale(0.711,1)">L</text><text transform="translate(615.80,583.6) scale(0.439,1)">I</text><text transform="translate(628.50,583.6) scale(0.853,1)">N</text><text transform="translate(660.10,583.6) scale(0.892,1)">D</text><text transform="translate(692.80,583.6) scale(0.439,1)">I</text><text transform="translate(705.40,583.6) scale(0.856,1)">C</text><text transform="translate(735.00,583.6) scale(0.964,1)">A</text><text transform="translate(763.40,583.6) scale(1.098,1)">T</text><text transform="translate(793.00,583.6) scale(0.900,1)">O</text><text transform="translate(826.70,583.6) scale(0.777,1)">R</text><text transform="translate(853.10,583.6) scale(0.759,1)">S</text></g>
<g font-family='"Liberation Sans", sans-serif' font-size="20.3" fill="#cdcdcd" stroke="#cdcdcd" stroke-width="0.5"><text transform="translate(448.85,617.5) scale(0.782,1)">T</text><text transform="translate(464.45,617.5) scale(0.714,1)">H</text><text transform="translate(484.75,617.5) scale(0.600,1)">E</text><text transform="translate(509.75,617.5) scale(0.719,1)">S</text><text transform="translate(529.25,617.5) scale(0.714,1)">C</text><text transform="translate(548.05,617.5) scale(0.339,1)">I</text><text transform="translate(558.25,617.5) scale(0.600,1)">E</text><text transform="translate(575.45,617.5) scale(0.707,1)">N</text><text transform="translate(594.95,617.5) scale(0.707,1)">C</text><text transform="translate(614.45,617.5) scale(0.600,1)">E</text><text transform="translate(639.65,617.5) scale(0.759,1)">O</text><text transform="translate(659.95,617.5) scale(0.710,1)">F</text><text transform="translate(684.15,617.5) scale(0.903,1)">T</text><text transform="translate(703.65,617.5) scale(0.660,1)">R</text><text transform="translate(720.85,617.5) scale(0.778,1)">A</text><text transform="translate(741.15,617.5) scale(0.660,1)">D</text><text transform="translate(761.50,617.5) scale(0.330,1)">I</text><text transform="translate(770.85,617.5) scale(0.714,1)">N</text><text transform="translate(790.45,617.5) scale(0.709,1)">G</text></g>
<line x1="372.5" x2="415" y1="610.5" y2="610.5" stroke="#cfcfcf" stroke-width="1.6"/>
<line x1="808" x2="873" y1="610.5" y2="610.5" stroke="#cfcfcf" stroke-width="1.6"/>
<g clip-path="url(#bclip)" fill="none" stroke-width="1.9" stroke-linejoin="round">
<path d="M108.3,566.7 L109.4,584.4 L111.7,596.7 L113.9,573.3 L115.6,570.3 L117.2,572.2 L119.4,564.4 L121.1,567.3 L122.8,568.9 L124.4,566.0 L126.1,558.9 L127.2,562.2 L129.4,554.6 L131.7,548.9 L133.9,531.0 L135.7,525.9 L137.6,524.6 L139.4,523.9 L140.9,509.4 L142.4,496.1 L143.9,478.3 L145.6,481.8 L147.2,489.4 L148.9,482.1 L150.6,480.6 L152.8,420.6 L155.0,462.8 L156.7,459.7 L158.3,453.9 L160.0,447.8 L161.7,439.4 L163.9,456.1 L166.1,479.8 L168.3,497.2 L170.2,498.6 L172.0,496.2 L173.9,493.9 L176.1,484.6 L178.3,476.1 L179.8,477.5 L181.3,470.9 L182.8,465.0 L184.5,464.3 L186.1,463.2 L187.8,465.2 L189.4,467.2 L190.9,464.3 L192.4,460.6 L193.9,458.3 L195.6,468.1 L197.2,478.3 L198.9,483.8 L200.6,488.3 L202.2,491.7 L203.9,495.2 L205.5,496.2 L207.2,496.1 L208.9,504.0 L210.6,518.3 L211.7,540.0 L213.9,520.0 L215.0,516.1 L217.2,533.9 L219.4,548.9 L221.3,543.3 L223.1,541.2 L225.0,540.0 L226.7,532.3 L228.3,531.1 L230.0,531.7 L231.7,533.3 L233.9,622.2 L236.1,644.4 L238.3,626.7 L240.0,634.0 L241.7,644.4 L243.9,660.2 L246.1,675.6 L247.8,675.5 L249.4,662.2 L251.7,655.6 L253.3,645.8 L255.0,635.6 L256.6,635.1 L258.3,631.1 L260.6,646.7 L262.2,634.1 L263.9,626.7 L266.1,613.5 L268.3,602.2 L270.0,604.5 L271.7,604.4 L273.9,614.4 L276.1,624.4 L277.6,618.5 L279.1,611.7 L280.6,604.4 L282.8,600.3 L285.0,600.0 L286.6,594.2 L288.3,586.7 L290.6,613.3 L292.2,599.5 L293.9,588.9 L296.1,592.4 L298.3,588.9 L300.0,570.7 L301.7,553.3 L303.4,569.1 L305.0,582.2 L307.2,592.4 L309.4,602.2 L311.1,621.9 L312.8,637.8 L315.0,637.8 L317.2,611.1 L318.7,613.6 L320.2,619.9 L321.7,622.2 L323.9,617.7 L326.1,613.3 L327.8,620.3 L329.4,622.2 L330.9,623.1 L332.4,621.9 L333.9,620.0 L335.5,608.6 L337.2,600.0 L339.1,599.8 L340.9,598.7 L342.8,595.6 L345.0,577.8 L347.2,587.8 L349.4,591.1 L350.9,588.7 L352.4,587.6 L353.9,584.4 L356.1,601.2 L358.3,615.6 L359.9,614.6 L361.4,612.9 L363.0,611.1 L364.5,607.7 L366.1,606.7 L368.3,626.7 L370.2,630.5 L372.0,636.6 L373.9,644.4 L376.1,643.1 L378.3,640.0 L380.0,631.1 L381.8,637.7 L383.6,641.9 L385.3,645.9 L387.1,649.2 L388.9,648.9 L390.7,657.6 L392.6,663.7 L394.4,668.9 L396.0,663.6 L397.5,659.2 L399.1,649.4 L400.6,640.0 L402.2,633.3 L403.9,636.1 L405.5,633.7 L407.2,633.4 L408.9,628.9 L411.1,630.1 L413.3,626.7 L414.8,616.6 L416.3,614.2 L417.8,602.2 L419.4,608.6 L421.1,609.3 L422.8,611.8 L424.4,611.1 L425.9,606.7 L427.4,599.4 L428.9,595.6 L431.1,594.0 L433.3,593.3 L434.8,589.5 L436.3,587.0 L437.8,580.0 L439.5,587.4 L441.1,591.1 L442.6,598.2 L444.1,607.4 L445.6,611.1 L447.2,614.5 L448.9,621.0 L450.6,627.2 L452.2,628.9 L453.7,625.8 L455.2,619.3 L456.7,620.0 L458.9,573.3 L460.7,575.8 L462.6,581.6 L464.4,586.7 L465.9,580.2 L467.4,575.5 L468.9,564.4 L471.1,567.4 L473.3,573.3 L475.0,566.4 L476.6,561.2 L478.3,553.7 L480.0,546.7 L481.8,540.2 L483.6,542.2 L485.3,545.5 L487.1,543.8 L488.9,537.8 L491.1,560.0 L493.0,562.8 L494.8,567.1 L496.7,573.3 L498.9,562.4 L501.1,551.1 L502.8,551.7 L504.5,546.2 L506.1,540.2 L507.8,533.3 L510.0,522.0 L511.6,529.8 L513.3,531.1 L514.8,547.0 L516.3,566.2 L517.8,577.8 L519.4,574.4 L520.9,571.1 L522.5,570.5 L524.0,570.3 L525.6,564.4 L527.2,550.7 L528.9,533.3 L530.6,533.1 L532.2,528.0 L533.9,526.8 L535.6,528.9 L537.8,531.6 L540.0,537.8 L541.8,534.2 L543.6,533.8 L545.3,530.7 L547.1,530.3 L548.9,526.7 L550.7,528.4 L552.5,528.9 L554.2,530.6 L556.0,532.8 L557.8,533.3 L560.0,539.6 L562.2,542.2 L563.9,538.2 L565.5,534.7 L567.2,529.0 L568.9,528.9 L570.5,532.2 L572.1,534.5 L573.7,532.8 L575.2,531.6 L576.8,529.7 L578.4,531.7 L580.0,533.3 L581.6,535.1 L583.2,541.0 L584.8,541.0 L586.3,539.7 L587.9,536.4 L589.5,543.0 L591.1,544.4 L592.7,543.9 L594.3,539.5 L595.9,540.3 L597.4,536.7 L599.0,544.5 L600.6,543.6 L602.2,537.8 L603.8,540.6 L605.3,540.3 L606.9,536.6 L608.4,539.0 L610.0,537.8 L611.6,541.9 L613.1,539.1 L614.7,540.4 L616.2,545.8 L617.8,546.7 L619.4,547.8 L621.1,541.7 L622.8,536.6 L624.4,537.8 L626.1,540.1 L627.8,542.4 L629.4,540.4 L631.1,542.2 L633.3,520.0 L634.9,513.7 L636.4,508.2 L638.0,501.9 L639.5,497.4 L641.1,496.5 L642.7,492.8 L644.2,491.3 L645.8,484.0 L647.3,477.7 L648.9,471.7 L651.1,478.8 L653.3,489.4 L654.8,477.0 L656.3,462.8 L657.8,453.9 L659.4,491.7 L661.1,490.2 L662.8,495.5 L664.4,500.9 L666.1,500.6 L667.6,497.5 L669.1,494.0 L670.6,485.0 L672.8,503.6 L675.0,520.0 L677.2,540.0 L678.9,538.1 L680.5,538.3 L682.2,537.3 L683.9,537.8 L685.6,541.0 L687.2,544.2 L688.9,548.9 L690.6,560.0 L692.2,554.6 L693.9,550.9 L695.6,545.6 L697.2,542.2 L698.9,542.7 L700.5,539.6 L702.2,537.7 L703.9,533.3 L705.7,520.0 L707.6,501.0 L709.4,485.0 L711.3,482.5 L713.1,487.3 L715.0,489.4 L717.2,499.1 L719.4,511.7 L721.1,512.4 L722.8,510.3 L724.4,509.8 L726.1,505.0 L727.6,512.0 L729.1,512.0 L730.6,520.0 L732.8,540.9 L735.0,560.0 L736.8,556.1 L738.6,552.5 L740.3,550.0 L742.1,549.8 L743.9,546.7 L746.1,558.5 L748.3,566.7 L749.8,577.9 L751.3,582.4 L752.8,593.3 L755.0,562.9 L757.2,535.6 L758.9,528.9 L760.5,529.3 L762.2,530.2 L763.9,528.9 L766.1,519.8 L768.3,513.9 L769.8,516.2 L771.3,518.6 L772.8,520.0 L774.4,526.6 L776.1,528.4 L777.8,531.4 L779.4,537.8 L780.9,537.4 L782.4,543.2 L783.9,542.2 L785.6,539.2 L787.2,532.3 L788.9,526.6 L790.6,520.0 L792.8,505.1 L795.0,489.4 L797.2,481.0 L799.4,471.7 L801.1,475.8 L802.8,479.7 L804.4,482.0 L806.1,489.4 L807.6,491.4 L809.1,499.2 L810.6,500.6 L812.8,488.7 L815.0,473.9 L816.9,475.7 L818.7,476.6 L820.6,478.3 L822.4,468.8 L824.3,459.8 L826.1,449.4 L827.6,452.7 L829.1,458.1 L830.6,462.8 L832.2,465.5 L833.9,466.0 L835.6,467.2 L837.2,471.7 L839.0,471.1 L840.8,471.8 L842.5,476.9 L844.3,474.0 L846.1,480.6 L847.6,483.7 L849.1,487.5 L850.6,493.9 L852.8,482.3 L855.0,473.9 L857.2,486.0 L859.4,498.3 L861.1,496.1 L862.8,490.8 L864.4,485.5 L866.1,480.6 L867.6,475.7 L869.1,472.2 L870.6,469.4 L872.8,480.0 L875.0,487.2 L877.2,470.0 L879.4,453.9 L880.9,456.7 L882.4,460.4 L883.9,469.4 L886.1,456.6 L888.3,449.4 L890.0,446.7 L891.6,451.0 L893.3,452.1 L895.0,451.7 L897.2,424.7 L899.4,398.3 L900.9,391.9 L902.4,380.1 L903.9,370.6 L906.1,391.7 L908.3,440.6 L909.8,437.6 L911.3,434.1 L912.8,427.2 L914.4,426.7 L916.1,427.1 L917.8,429.5 L919.4,436.1 L920.9,435.0 L922.4,434.8 L923.9,429.4 L925.0,431.7 L927.2,436.1 L929.4,445.0 L931.1,452.3 L932.8,456.1 L935.0,449.0 L937.2,442.8 L938.7,447.1 L940.2,451.6 L941.7,458.3 L942.8,502.8 L945.0,498.7 L947.2,496.1 L948.9,497.3 L950.5,502.0 L952.2,506.4 L953.9,516.1 L955.7,513.2 L957.5,514.2 L959.2,514.6 L961.0,507.3 L962.8,500.6 L964.4,492.2 L966.1,487.1 L967.8,480.7 L969.4,478.3 L971.0,479.5 L972.5,476.9 L974.1,471.9 L975.6,471.4 L977.2,467.2 L979.1,473.1 L980.9,473.7 L982.8,480.6 L985.0,493.9 L986.6,491.4 L988.2,490.2 L989.8,489.5 L991.3,488.8 L992.9,486.8 L994.5,486.3 L996.1,485.0 L998.3,478.3 L999.8,483.1 L1001.3,487.7 L1002.8,496.1 L1004.6,496.9 L1006.4,494.7 L1008.1,492.8 L1009.9,486.9 L1011.7,487.2 L1013.9,507.2 L1015.6,502.9 L1017.2,500.8 L1018.9,493.8 L1020.6,491.7 L1022.4,493.8 L1024.1,492.4 L1025.9,493.3 L1027.6,492.8 L1029.4,492.8 L1030.9,492.1 L1032.4,493.2 L1033.9,489.4 L1035.6,490.7 L1037.2,495.7 L1038.9,494.5 L1040.6,496.1 L1042.2,488.1 L1043.9,484.3 L1045.5,475.9 L1047.2,471.7 L1048.7,473.6 L1050.2,478.9 L1051.7,480.6 L1053.3,484.5 L1054.9,481.0 L1056.5,484.2 L1058.0,489.3 L1059.6,491.3 L1061.2,490.1 L1062.8,489.4 L1065.0,476.9 L1067.2,466.1 L1068.7,466.1 L1070.2,464.9 L1071.7,468.3 L1073.3,473.7 L1075.0,480.2 L1076.7,486.7 L1078.3,493.9 L1080.0,496.1 L1081.7,494.7 L1083.3,491.4 L1085.0,493.9 L1086.9,503.7 L1088.7,509.0 L1090.6,518.3 L1092.1,513.2 L1093.7,509.4 L1095.2,505.1 L1096.8,499.7 L1098.3,498.3 L1099.8,498.9 L1101.3,505.2 L1102.8,502.8 L1104.5,508.7 L1106.1,515.3 L1107.8,524.3 L1109.4,528.9 L1111.1,531.8 L1112.8,533.6 L1114.4,535.3 L1116.1,533.3 L1118.3,542.2 L1120.6,535.6 L1122.2,534.5 L1123.9,537.3 L1125.5,542.1 L1127.2,546.7 L1129.1,548.5 L1130.9,551.9 L1132.8,550.0 L1135.0,544.4 L1137.2,548.9" stroke="#1f77b4"/>
<path d="M108.3,371.7 L109.9,372.6 L111.4,373.0 L113.0,373.7 L114.5,374.2 L116.1,375.0 L117.8,376.5 L119.4,378.3 L121.1,379.3 L122.8,380.6 L124.5,378.7 L126.1,377.0 L127.8,376.6 L129.4,375.0 L131.1,374.5 L132.8,373.5 L134.4,372.3 L136.1,369.9 L137.8,370.8 L139.4,370.6 L141.1,371.0 L142.8,370.6 L144.6,373.8 L146.5,377.6 L148.3,381.7 L149.9,379.6 L151.4,378.7 L153.0,376.8 L154.5,375.3 L156.1,373.9 L157.6,373.7 L159.1,374.1 L160.6,372.8 L162.4,373.4 L164.1,373.8 L165.9,375.5 L167.6,375.7 L169.4,377.2 L171.0,377.1 L172.6,376.3 L174.2,376.1 L175.8,374.7 L177.4,375.4 L179.0,374.9 L180.6,375.0 L182.2,374.9 L183.8,376.9 L185.4,377.3 L186.9,379.5 L188.5,379.0 L190.1,378.5 L191.7,378.3 L193.5,379.6 L195.3,381.6 L197.0,382.2 L198.8,383.4 L200.6,383.9 L202.3,384.7 L203.9,384.4 L205.6,385.0 L207.2,385.2 L208.9,385.0 L210.6,386.4 L212.2,387.2 L213.9,387.2 L215.7,390.9 L217.5,393.8 L219.2,396.4 L221.0,400.9 L222.8,405.0 L224.5,408.5 L226.1,411.1 L227.8,415.2 L229.4,419.4 L231.1,422.6 L232.8,427.2 L234.4,431.7 L236.1,436.1 L238.3,431.7 L239.9,432.2 L241.5,432.6 L243.1,432.9 L244.6,432.4 L246.2,432.7 L247.8,433.0 L249.4,433.9 L251.0,433.9 L252.6,434.4 L254.2,435.1 L255.8,436.1 L257.4,434.3 L259.0,435.2 L260.6,435.7 L262.4,435.1 L264.1,436.1 L265.9,435.6 L267.6,433.6 L269.4,433.4 L271.2,435.9 L273.0,437.8 L274.7,440.8 L276.5,442.3 L278.3,445.0 L280.1,446.7 L281.9,448.4 L283.6,450.2 L285.4,451.7 L287.2,453.9 L288.7,457.2 L290.2,462.4 L291.7,467.2 L293.4,468.6 L295.0,469.1 L296.7,469.2 L298.4,470.4 L300.0,471.7 L301.7,472.3 L303.3,473.1 L305.0,473.9 L306.6,475.4 L308.2,475.0 L309.8,475.3 L311.3,475.0 L312.9,475.9 L314.5,476.6 L316.1,478.3 L317.8,480.9 L319.5,484.2 L321.1,489.0 L322.8,491.7 L324.5,492.0 L326.1,492.2 L327.8,493.8 L329.5,493.5 L331.1,492.4 L332.8,493.2 L334.4,493.0 L336.1,493.9 L337.9,495.7 L339.7,495.4 L341.4,496.0 L343.2,496.2 L345.0,498.3 L346.7,498.9 L348.3,499.0 L350.0,500.0 L351.6,500.6 L353.3,501.2 L355.0,502.7 L356.6,503.9 L358.3,503.9 L360.1,503.2 L361.9,501.6 L363.6,500.3 L365.4,500.0 L367.2,499.4 L368.8,500.9 L370.4,500.2 L372.0,499.6 L373.6,499.5 L375.2,499.2 L376.8,499.2 L378.4,499.7 L380.0,500.6 L381.7,502.2 L383.4,502.7 L385.0,503.0 L386.7,503.9 L388.3,502.1 L389.9,501.9 L391.5,501.3 L393.0,499.8 L394.6,498.8 L396.2,498.5 L397.8,498.3 L399.4,498.3 L401.0,498.0 L402.6,497.4 L404.1,496.5 L405.7,496.2 L407.3,495.6 L408.9,495.0 L410.7,495.9 L412.5,494.2 L414.2,493.5 L416.0,493.9 L417.8,492.8 L419.4,495.5 L421.1,499.2 L422.8,501.6 L424.4,503.9 L426.0,504.2 L427.6,504.1 L429.2,503.5 L430.8,503.4 L432.4,505.4 L434.0,505.6 L435.6,505.0 L437.2,505.3 L438.8,505.5 L440.4,505.3 L441.9,505.4 L443.5,504.6 L445.1,504.2 L446.7,503.9 L448.5,503.8 L450.3,502.7 L452.0,501.2 L453.8,500.7 L455.6,500.6 L457.2,496.6 L458.9,493.5 L460.6,489.4 L462.2,486.1 L464.0,484.7 L465.8,484.2 L467.5,484.7 L469.3,483.8 L471.1,482.8 L472.8,483.2 L474.4,483.4 L476.1,483.8 L477.8,484.6 L479.4,485.4 L481.1,484.1 L482.7,485.4 L484.4,485.0 L486.0,485.9 L487.6,486.5 L489.2,488.8 L490.8,488.8 L492.4,490.5 L494.0,491.2 L495.6,490.6 L497.3,490.6 L498.9,491.5 L500.6,492.3 L502.2,492.4 L503.9,491.4 L505.6,492.2 L507.2,492.9 L508.9,493.9 L510.6,494.0 L512.2,496.2 L513.9,496.6 L515.5,497.1 L517.2,497.8 L518.9,498.3 L520.5,499.0 L522.2,500.6 L523.9,501.1 L525.6,501.8 L527.2,502.0 L528.9,502.6 L530.6,502.4 L532.2,503.7 L533.9,503.9 L535.6,505.0 L537.2,506.2 L538.8,506.7 L540.4,507.7 L541.9,509.3 L543.5,509.7 L545.1,512.7 L546.7,512.8 L548.3,514.7 L549.9,516.3 L551.5,517.6 L553.0,520.5 L554.6,522.7 L556.2,524.1 L557.8,525.0 L559.4,525.3 L561.1,526.3 L562.8,527.9 L564.4,528.9 L566.0,529.5 L567.5,529.8 L569.1,530.4 L570.6,531.3 L572.2,532.7 L573.8,533.5 L575.3,534.7 L576.9,537.5 L578.4,538.8 L580.0,537.8 L581.6,538.1 L583.2,539.1 L584.8,539.8 L586.3,540.3 L587.9,541.6 L589.5,541.7 L591.1,542.1 L592.7,542.6 L594.3,543.3 L595.9,544.8 L597.4,545.6 L599.0,545.1 L600.6,545.6 L602.2,546.7 L603.8,546.5 L605.4,547.7 L607.1,548.1 L608.7,549.0 L610.3,549.0 L611.9,548.1 L613.5,549.2 L615.1,549.9 L616.8,550.6 L618.4,550.1 L620.0,551.1 L621.6,551.2 L623.1,550.9 L624.7,550.8 L626.2,551.4 L627.8,551.8 L629.4,551.3 L630.9,550.6 L632.5,549.8 L634.0,550.5 L635.6,552.2 L637.2,554.6 L638.9,556.3 L640.6,556.8 L642.2,560.0 L643.9,560.4 L645.5,562.1 L647.2,564.2 L648.9,564.4 L650.6,565.8 L652.2,566.2 L653.9,566.6 L655.6,566.7 L657.1,565.9 L658.7,565.6 L660.2,565.4 L661.7,565.6 L663.5,564.8 L665.3,564.9 L667.0,564.5 L668.8,564.6 L670.6,564.4 L672.2,566.4 L673.9,567.6 L675.6,568.5 L677.2,568.9 L679.0,569.1 L680.8,568.4 L682.5,569.0 L684.3,569.8 L686.1,570.0 L687.8,570.5 L689.5,572.6 L691.1,573.3 L692.8,574.4 L694.4,574.5 L696.0,574.0 L697.6,573.1 L699.1,574.6 L700.7,573.4 L702.3,573.9 L703.9,573.3 L705.7,574.2 L707.5,575.6 L709.2,576.2 L711.0,577.3 L712.8,578.9 L714.6,580.5 L716.4,582.5 L718.1,582.5 L719.9,583.5 L721.7,584.4 L723.9,590.6 L726.1,595.6 L727.8,597.0 L729.5,599.2 L731.1,600.2 L732.8,602.2 L734.4,603.0 L736.0,603.6 L737.6,604.6 L739.1,604.9 L740.7,604.3 L742.3,605.3 L743.9,605.6 L745.7,607.0 L747.5,609.7 L749.2,612.6 L751.0,614.5 L752.8,615.6 L754.4,614.0 L756.1,613.4 L757.8,611.8 L759.4,610.0 L761.1,608.6 L762.8,608.0 L764.4,608.4 L766.1,607.3 L767.8,606.6 L769.4,605.7 L771.1,604.0 L772.8,604.4 L774.3,603.5 L775.9,603.5 L777.4,603.2 L779.0,602.6 L780.5,600.9 L782.1,601.8 L783.6,601.8 L785.2,601.7 L786.8,601.7 L788.3,600.0 L789.9,598.7 L791.5,597.1 L793.1,596.2 L794.6,595.9 L796.2,593.2 L797.8,592.0 L799.4,591.1 L801.0,590.4 L802.6,590.8 L804.2,591.5 L805.8,590.8 L807.4,589.7 L809.0,589.9 L810.6,590.0 L812.3,589.1 L813.9,587.6 L815.6,587.9 L817.2,586.9 L818.9,586.7 L820.6,585.1 L822.2,585.4 L823.9,584.4 L825.7,583.4 L827.5,584.1 L829.2,582.8 L831.0,583.8 L832.8,583.3 L834.3,583.0 L835.9,582.0 L837.4,582.3 L839.0,582.7 L840.5,582.1 L842.1,582.0 L843.6,582.3 L845.2,582.2 L846.8,580.4 L848.3,582.2 L850.0,582.2 L851.6,583.2 L853.3,584.0 L855.0,584.4 L856.7,587.8 L858.4,589.9 L860.0,594.3 L861.7,595.6 L863.4,595.8 L865.0,595.1 L866.7,594.9 L868.4,594.5 L870.0,593.5 L871.7,592.2 L873.3,592.3 L875.0,591.1 L876.6,591.6 L878.2,590.5 L879.8,590.4 L881.3,591.4 L882.9,591.7 L884.5,592.1 L886.1,592.2 L887.7,592.6 L889.3,592.5 L890.9,593.3 L892.4,592.5 L894.0,592.1 L895.6,592.3 L897.2,592.2 L899.0,594.0 L900.8,595.6 L902.5,597.5 L904.3,598.0 L906.1,598.9 L907.9,653.3 L909.4,654.4 L911.0,655.0 L912.5,654.8 L914.1,653.8 L915.6,653.7 L917.2,655.0 L918.8,654.8 L920.3,653.9 L921.9,652.3 L923.4,652.3 L925.0,653.3 L926.6,652.4 L928.2,652.4 L929.8,653.6 L931.3,653.2 L932.9,652.5 L934.5,651.3 L936.1,651.1 L937.7,650.2 L939.3,650.3 L940.9,650.1 L942.4,652.0 L944.0,650.9 L945.6,650.1 L947.2,650.0 L949.0,651.3 L950.8,651.7 L952.5,651.5 L954.3,653.1 L956.1,653.3 L957.8,653.1 L959.4,652.2 L961.1,652.6 L962.8,652.9 L964.4,652.5 L966.1,652.8 L967.7,653.0 L969.4,652.2 L971.1,652.3 L972.8,651.8 L974.4,651.6 L976.1,654.4 L977.9,654.6 L979.7,656.3 L981.4,657.3 L983.2,658.4 L985.0,657.8 L986.7,659.3 L988.3,658.8 L990.0,659.3 L991.6,658.0 L993.3,658.7 L995.0,659.0 L996.6,658.9 L998.3,658.9 L1000.0,658.8 L1001.6,658.4 L1003.3,659.0 L1005.0,660.0 L1006.7,659.7 L1008.4,660.1 L1010.0,659.7 L1011.7,660.0 L1013.3,659.6 L1014.9,658.5 L1016.5,658.5 L1018.0,657.9 L1019.6,657.7 L1021.2,656.9 L1022.8,656.7 L1024.4,656.4 L1026.0,657.0 L1027.6,658.4 L1029.1,659.7 L1030.7,659.5 L1032.3,660.2 L1033.9,660.0 L1035.5,661.0 L1037.0,661.4 L1038.6,660.7 L1040.1,661.6 L1041.7,661.5 L1043.2,663.0 L1044.8,663.7 L1046.3,664.3 L1047.9,662.8 L1049.4,664.4 L1051.2,665.0 L1053.0,665.8 L1054.7,665.3 L1056.5,666.6 L1058.3,666.7 L1059.9,667.2 L1061.5,667.4 L1063.2,667.4 L1064.8,667.4 L1066.4,668.0 L1068.0,670.5 L1069.6,670.4 L1071.2,670.5 L1072.9,670.3 L1074.5,670.3 L1076.1,671.1 L1077.7,670.9 L1079.2,670.8 L1080.8,671.9 L1082.3,671.9 L1083.9,672.7 L1085.5,672.0 L1087.0,673.0 L1088.6,673.0 L1090.1,673.6 L1091.7,673.3 L1093.3,673.3 L1094.9,672.7 L1096.5,673.6 L1098.0,673.1 L1099.6,672.9 L1101.2,672.4 L1102.8,672.9 L1104.4,673.2 L1106.0,673.3 L1107.6,673.9 L1109.1,674.4 L1110.7,674.2 L1112.3,673.8 L1113.9,675.1 L1115.6,674.7 L1117.2,674.8 L1118.9,674.5 L1120.6,673.3 L1122.1,673.0 L1123.7,673.8 L1125.2,674.2 L1126.8,674.5 L1128.3,674.9 L1129.9,674.7 L1131.4,675.1 L1133.0,675.8 L1134.5,675.4 L1136.1,675.6" stroke="#ff7f0e"/>
<path d="M108.3,675.6 L110.2,668.3 L112.0,664.9 L113.9,662.2 L115.7,661.4 L117.5,656.8 L119.2,656.2 L121.0,658.0 L122.8,657.8 L124.5,656.3 L126.1,655.5 L127.8,651.9 L129.4,653.3 L130.9,651.4 L132.4,650.9 L133.9,643.3 L135.6,642.8 L137.2,640.4 L138.9,637.8 L140.6,640.0 L142.8,630.2 L145.0,617.8 L146.7,617.7 L148.3,615.3 L150.0,617.8 L151.7,615.6 L153.9,603.0 L156.1,586.7 L157.7,586.9 L159.2,581.3 L160.8,581.0 L162.3,581.7 L163.9,580.0 L166.1,584.3 L168.3,593.3 L170.2,594.0 L172.0,595.5 L173.9,591.1 L175.5,594.1 L177.1,591.8 L178.7,590.6 L180.2,593.5 L181.8,595.3 L183.4,596.9 L185.0,593.3 L186.7,596.9 L188.3,595.9 L190.0,595.0 L191.7,591.8 L193.3,595.6 L195.0,601.0 L196.6,598.7 L198.3,597.8 L200.0,596.0 L201.7,596.5 L203.3,595.7 L205.0,593.3 L207.2,598.0 L209.4,607.8 L210.9,601.1 L212.4,594.9 L213.9,593.3 L216.1,603.5 L218.3,606.7 L220.0,598.6 L221.7,593.5 L223.3,589.5 L225.0,577.8 L226.7,580.1 L228.3,578.7 L230.0,577.3 L231.7,568.9 L233.9,577.5 L236.1,588.9 L238.3,573.3 L240.0,574.2 L241.7,574.8 L243.3,576.7 L245.0,580.0 L247.2,577.2 L249.4,564.4 L251.2,558.3 L253.0,557.0 L254.7,551.2 L256.5,551.5 L258.3,546.7 L260.0,546.7 L261.6,541.7 L263.3,542.8 L265.0,535.6 L266.8,535.1 L268.6,536.0 L270.3,533.9 L272.1,530.4 L273.9,528.9 L276.1,523.7 L278.3,520.0 L279.8,513.9 L281.3,509.6 L282.8,502.8 L284.5,502.1 L286.1,500.6 L287.8,516.1 L289.4,522.0 L291.2,522.4 L293.0,521.3 L294.7,520.2 L296.5,519.4 L298.3,522.0 L300.6,521.0 L302.8,524.1 L305.0,533.3 L306.6,534.0 L308.1,540.0 L309.7,543.0 L311.2,545.6 L312.8,548.9 L314.6,544.4 L316.5,541.0 L318.3,533.3 L320.1,534.1 L321.9,534.0 L323.6,530.9 L325.4,529.4 L327.2,528.9 L328.9,524.8 L330.5,522.9 L332.2,519.2 L333.9,519.0 L335.5,516.7 L337.1,515.6 L338.7,514.4 L340.2,513.1 L341.8,511.4 L343.4,513.6 L345.0,510.6 L346.6,510.5 L348.2,509.0 L349.8,510.7 L351.3,509.2 L352.9,508.6 L354.5,510.7 L356.1,512.8 L358.1,515.8 L360.0,526.0 L362.8,523.0 L365.0,507.4 L367.2,505.0 L368.9,503.9 L370.6,505.7 L372.2,501.0 L373.9,499.7 L375.6,501.7 L377.2,497.4 L378.9,497.1 L380.6,500.6 L382.5,500.8 L384.4,507.2 L386.2,506.3 L388.0,502.8 L389.7,506.5 L391.5,506.6 L393.3,507.2 L395.0,502.1 L396.6,495.7 L398.3,486.1 L400.0,485.0 L401.8,483.1 L403.6,480.0 L405.3,480.6 L407.1,478.8 L408.9,480.6 L410.7,476.6 L412.5,473.8 L414.2,472.9 L416.0,471.1 L417.8,466.1 L420.0,468.3 L422.2,473.9 L423.7,475.8 L425.2,481.1 L426.7,480.6 L428.9,479.8 L431.1,476.1 L432.8,483.8 L434.4,493.9 L436.3,502.8 L438.1,511.7 L440.0,522.0 L441.7,525.5 L443.4,526.5 L445.0,528.5 L446.7,528.9 L448.5,534.9 L450.3,531.4 L452.0,530.8 L453.8,529.6 L455.6,535.6 L457.2,526.3 L458.9,525.0 L460.5,511.6 L462.2,496.1 L463.9,496.0 L465.5,498.1 L467.2,491.7 L468.9,492.8 L470.7,490.3 L472.5,493.7 L474.2,494.5 L476.0,494.5 L477.8,490.6 L479.6,492.2 L481.4,490.6 L483.1,489.3 L484.9,488.3 L486.7,487.2 L488.5,490.7 L490.3,491.4 L492.0,493.5 L493.8,497.8 L495.6,496.1 L497.1,495.5 L498.7,495.9 L500.2,499.2 L501.7,499.9 L503.2,501.0 L504.8,506.6 L506.3,506.8 L507.8,505.0 L509.5,509.6 L511.1,515.0 L512.6,524.7 L514.1,536.4 L515.6,537.8 L517.2,536.9 L518.8,536.4 L520.4,537.9 L521.9,537.3 L523.5,542.8 L525.1,542.6 L526.7,540.0 L528.9,530.0 L531.1,520.6 L532.6,520.0 L534.1,516.5 L535.6,516.1 L537.3,515.2 L538.9,516.5 L540.6,522.0 L542.2,516.0 L543.9,518.3 L545.6,521.6 L547.2,522.4 L548.9,520.0 L551.1,525.2 L553.3,521.7 L555.1,522.6 L556.9,521.5 L558.6,520.0 L560.4,517.5 L562.2,518.3 L564.0,520.9 L565.8,516.7 L567.5,516.3 L569.3,515.1 L571.1,516.1 L572.9,516.4 L574.7,514.9 L576.4,518.7 L578.2,522.8 L580.0,526.7 L582.2,523.0 L584.4,519.4 L586.2,523.4 L588.0,524.7 L589.7,525.5 L591.5,528.9 L593.3,531.1 L595.1,532.0 L596.9,529.2 L598.6,526.2 L600.4,525.3 L602.2,528.9 L603.9,531.4 L605.5,533.9 L607.2,532.0 L608.9,533.3 L610.5,533.2 L612.1,534.5 L613.7,536.0 L615.2,532.7 L616.8,531.6 L618.4,534.2 L620.0,531.1 L621.8,535.9 L623.6,536.2 L625.3,530.8 L627.1,530.8 L628.9,528.9 L631.1,524.4 L633.3,520.6 L635.0,515.4 L636.6,509.2 L638.3,503.9 L640.0,499.6 L641.7,498.7 L643.4,493.7 L645.0,488.2 L646.7,480.6 L648.5,478.8 L650.3,474.9 L652.0,472.7 L653.8,473.5 L655.6,469.4 L657.1,472.5 L658.7,476.7 L660.2,476.1 L661.7,473.9 L663.5,471.7 L665.3,465.6 L667.0,465.1 L668.8,459.4 L670.6,460.6 L672.8,466.3 L675.0,467.2 L676.8,463.7 L678.6,461.4 L680.3,456.3 L682.1,453.9 L683.9,453.9 L685.6,454.9 L687.2,461.6 L688.9,464.9 L690.6,467.2 L692.4,463.2 L694.1,458.6 L695.9,458.9 L697.6,457.5 L699.4,458.3 L700.9,454.9 L702.4,456.6 L703.9,456.1 L705.7,451.9 L707.5,448.5 L709.2,443.6 L711.0,439.2 L712.8,437.2 L714.6,437.1 L716.4,435.6 L718.1,439.7 L719.9,442.0 L721.7,442.8 L723.5,441.6 L725.3,445.6 L727.0,450.9 L728.8,452.9 L730.6,453.9 L732.4,459.4 L734.1,460.2 L735.9,462.4 L737.6,462.2 L739.4,467.2 L740.9,462.8 L742.4,457.9 L743.9,460.6 L745.6,463.0 L747.2,469.7 L748.9,476.1 L750.6,480.6 L752.2,478.0 L753.9,472.2 L755.6,464.5 L757.2,460.6 L758.7,464.2 L760.2,466.5 L761.7,469.4 L763.3,473.9 L764.9,477.2 L766.5,477.4 L768.0,473.8 L769.6,473.4 L771.2,475.1 L772.8,476.1 L774.6,476.0 L776.4,479.0 L778.1,481.6 L779.9,484.0 L781.7,482.8 L783.5,482.3 L785.3,478.8 L787.0,476.4 L788.8,475.9 L790.6,476.1 L792.4,476.7 L794.1,477.0 L795.9,475.2 L797.6,472.1 L799.4,467.2 L801.0,471.0 L802.6,473.7 L804.2,477.0 L805.8,478.8 L807.4,475.9 L809.0,480.1 L810.6,480.6 L812.2,480.5 L813.9,478.0 L815.6,478.1 L817.2,476.1 L819.0,475.0 L820.8,472.8 L822.5,467.5 L824.3,467.4 L826.1,467.2 L827.8,470.8 L829.5,473.1 L831.1,472.6 L832.8,478.3 L834.4,479.7 L836.0,481.9 L837.6,482.5 L839.1,483.7 L840.7,483.2 L842.3,482.8 L843.9,485.0 L845.6,486.4 L847.2,485.9 L848.9,486.9 L850.6,487.2 L852.8,488.2 L855.0,476.1 L857.2,485.3 L859.4,489.4 L861.2,487.4 L863.0,481.2 L864.7,480.0 L866.5,479.5 L868.3,476.1 L870.1,470.4 L871.9,466.0 L873.6,457.6 L875.4,456.6 L877.2,453.9 L879.0,451.1 L880.8,451.8 L882.5,452.9 L884.3,449.9 L886.1,447.2 L887.8,442.2 L889.5,434.5 L891.1,426.1 L892.8,418.3 L894.4,410.1 L896.1,400.8 L897.8,396.5 L899.4,387.2 L901.1,392.0 L902.8,391.8 L904.4,396.7 L906.1,398.3 L907.8,394.8 L909.5,390.1 L911.1,392.0 L912.8,389.4 L914.6,387.4 L916.4,391.3 L918.1,391.7 L919.9,393.6 L921.7,391.7 L923.4,394.8 L925.0,398.1 L926.6,399.0 L928.3,398.3 L930.2,400.6 L932.0,401.2 L933.9,400.6 L935.7,401.5 L937.5,398.0 L939.2,398.3 L941.0,398.7 L942.8,392.8 L944.6,393.4 L946.5,394.0 L948.3,392.8 L950.2,395.3 L952.0,398.4 L953.9,402.8 L955.7,401.8 L957.5,399.6 L959.2,396.7 L961.0,396.3 L962.8,396.1 L964.6,394.7 L966.4,393.7 L968.1,393.3 L969.9,387.3 L971.7,388.3 L973.3,391.5 L974.9,390.9 L976.5,389.7 L978.0,390.2 L979.6,392.5 L981.2,394.9 L982.8,393.9 L984.6,393.0 L986.4,393.1 L988.1,389.4 L989.9,390.7 L991.7,391.7 L993.4,391.8 L995.0,391.7 L996.7,394.5 L998.4,398.1 L1000.0,398.8 L1001.7,395.9 L1003.3,399.1 L1005.0,396.1 L1006.7,395.5 L1008.3,394.9 L1010.0,393.2 L1011.6,394.1 L1013.3,394.6 L1015.0,393.8 L1016.6,392.4 L1018.3,391.7 L1019.9,391.6 L1021.5,391.1 L1023.1,393.6 L1024.6,392.1 L1026.2,392.0 L1027.8,392.0 L1029.4,392.8 L1031.1,391.2 L1032.8,391.5 L1034.4,389.1 L1036.1,392.8 L1037.8,387.5 L1039.4,381.7 L1041.0,382.1 L1042.5,380.4 L1044.1,382.8 L1045.6,379.1 L1047.2,378.3 L1048.8,379.6 L1050.4,380.2 L1052.0,378.6 L1053.5,378.3 L1055.1,380.5 L1056.7,380.2 L1058.3,379.4 L1059.8,381.2 L1061.3,384.8 L1062.8,382.8 L1064.5,383.2 L1066.1,378.9 L1067.8,378.1 L1069.4,380.6 L1071.1,382.9 L1072.8,383.2 L1074.4,382.0 L1076.1,385.0 L1077.9,379.6 L1079.7,381.1 L1081.4,383.7 L1083.2,379.2 L1085.0,379.4 L1086.9,376.4 L1088.7,380.9 L1090.6,383.9 L1092.3,382.0 L1093.9,381.5 L1095.6,380.9 L1097.3,379.2 L1098.9,380.6 L1100.6,380.6 L1102.4,383.4 L1104.1,384.5 L1105.9,383.7 L1107.6,387.0 L1109.4,386.1 L1111.2,383.5 L1113.0,382.0 L1114.7,376.9 L1116.5,376.1 L1118.3,372.8 L1120.0,375.2 L1121.7,377.9 L1123.3,377.2 L1125.0,376.1 L1126.5,376.6 L1128.0,374.2 L1129.6,375.5 L1131.1,375.7 L1132.6,376.1 L1134.2,373.1 L1135.7,369.5 L1137.2,370.6" stroke="#2ca02c"/>
<path d="M108.3,507.2 L110.6,522.8 L112.2,509.3 L113.9,496.1 L115.6,494.6 L117.2,493.9 L118.9,487.9 L120.6,485.0 L122.2,492.6 L123.9,498.3 L125.6,493.1 L127.2,483.9 L128.9,490.0 L130.6,493.9 L132.2,480.7 L133.9,462.8 L136.1,456.2 L138.3,447.2 L139.8,435.1 L141.3,424.4 L142.8,416.1 L144.4,412.3 L146.1,410.6 L148.3,412.8 L150.6,403.9 L152.8,369.4 L155.0,389.4 L157.2,390.8 L159.4,389.4 L162.3,376.1 L164.6,391.7 L166.4,415.7 L168.3,436.1 L170.2,435.9 L172.0,437.0 L173.9,433.9 L176.1,428.2 L178.3,425.0 L180.2,416.4 L182.0,411.5 L183.9,400.6 L185.7,403.0 L187.6,405.6 L189.4,403.9 L190.9,396.2 L192.4,389.9 L193.9,390.6 L196.1,411.7 L198.3,400.6 L200.6,413.9 L202.4,414.4 L204.3,419.4 L206.1,420.6 L207.8,440.6 L209.4,453.9 L211.1,465.4 L212.8,478.3 L214.4,474.1 L216.1,473.9 L217.8,484.9 L219.4,500.6 L221.3,494.7 L223.1,493.1 L225.0,489.4 L227.2,478.8 L229.4,469.4 L231.7,471.7 L233.3,499.5 L235.0,520.0 L236.7,548.7 L238.3,573.3 L239.9,581.2 L241.4,591.0 L243.0,599.7 L244.5,610.3 L246.1,617.8 L248.0,615.4 L249.8,609.3 L251.7,604.4 L253.9,600.7 L256.1,593.3 L258.0,599.9 L259.8,604.3 L261.7,608.9 L263.4,599.5 L265.0,588.9 L267.2,581.4 L269.4,571.1 L270.9,575.9 L272.4,580.0 L273.9,586.7 L275.6,584.5 L277.2,579.1 L278.9,572.9 L280.6,568.9 L282.8,563.1 L285.0,555.6 L287.2,561.7 L289.4,573.3 L290.9,566.3 L292.4,557.1 L293.9,553.3 L295.6,547.0 L297.2,539.1 L298.9,534.6 L300.6,533.3 L302.8,544.5 L305.0,553.3 L306.6,569.8 L308.3,586.7 L310.0,596.5 L311.7,611.1 L313.9,603.0 L316.1,588.9 L317.6,591.9 L319.1,598.8 L320.6,600.0 L322.2,598.3 L323.9,594.6 L325.6,598.6 L327.2,595.6 L329.4,604.4 L331.1,599.8 L332.8,597.7 L334.4,595.7 L336.1,588.9 L337.7,582.4 L339.2,579.0 L340.8,573.9 L342.3,571.4 L343.9,566.7 L345.7,569.7 L347.6,570.2 L349.4,575.6 L351.3,574.6 L353.1,575.4 L355.0,573.3 L356.6,585.2 L358.3,597.8 L360.1,598.4 L361.9,596.5 L363.6,596.1 L365.4,596.5 L367.2,595.6 L368.9,604.9 L370.5,616.1 L372.2,625.6 L373.9,631.1 L375.4,633.9 L376.9,634.8 L378.5,634.5 L380.0,633.3 L382.2,636.9 L384.4,644.4 L385.9,649.1 L387.4,654.7 L388.9,653.3 L390.5,664.5 L392.2,673.3 L393.7,672.3 L395.2,671.6 L396.7,671.1 L398.9,662.3 L401.1,648.9 L402.8,646.5 L404.4,642.2 L406.2,639.6 L408.0,639.2 L409.7,637.4 L411.5,637.1 L413.3,637.8 L414.8,629.1 L416.3,621.7 L417.8,617.8 L420.0,623.6 L422.2,624.4 L423.7,624.7 L425.2,618.2 L426.7,617.8 L428.4,619.7 L430.0,626.0 L431.6,614.0 L433.3,604.4 L434.8,596.1 L436.3,586.4 L437.8,582.2 L440.0,576.8 L442.2,568.9 L443.7,570.4 L445.2,577.5 L446.7,582.2 L448.9,594.6 L451.1,604.4 L452.6,601.7 L454.1,598.5 L455.6,597.8 L457.2,583.2 L458.9,568.9 L460.7,564.8 L462.6,556.1 L464.4,555.6 L465.9,556.2 L467.4,562.4 L468.9,566.7 L471.1,560.8 L473.3,555.6 L474.8,557.0 L476.3,557.6 L477.8,562.2 L479.5,543.8 L481.1,528.9 L482.8,534.9 L484.4,544.4 L486.1,542.4 L487.8,530.0 L489.5,540.1 L491.1,553.3 L492.6,559.8 L494.1,563.2 L495.6,564.4 L497.8,551.0 L500.0,539.4 L502.2,526.7 L504.4,540.0 L505.9,533.8 L507.4,526.2 L508.9,520.0 L511.1,485.0 L512.6,500.0 L514.1,511.5 L515.6,520.6 L517.8,533.3 L519.4,527.3 L520.9,520.9 L522.5,515.3 L524.0,506.9 L525.6,502.8 L527.4,497.4 L529.3,492.1 L531.1,489.4 L532.8,493.1 L534.5,496.7 L536.1,495.1 L537.8,500.6 L539.4,497.2 L541.0,497.0 L542.6,491.3 L544.1,487.2 L545.7,488.1 L547.3,485.2 L548.9,482.8 L550.6,482.5 L552.2,481.1 L553.9,483.2 L555.6,485.0 L557.4,486.0 L559.3,489.2 L561.1,491.7 L562.8,488.3 L564.5,485.2 L566.1,479.6 L567.8,475.0 L569.5,474.2 L571.1,474.9 L572.8,475.1 L574.5,475.9 L576.1,475.0 L577.8,476.1 L580.0,479.9 L582.2,485.0 L584.0,484.2 L585.8,484.1 L587.5,485.6 L589.3,488.7 L591.1,487.2 L592.6,483.5 L594.1,482.0 L595.6,478.3 L597.4,478.7 L599.1,478.1 L600.9,478.7 L602.6,476.4 L604.4,476.1 L606.2,479.4 L608.0,481.7 L609.7,476.6 L611.5,482.3 L613.3,487.2 L615.1,485.5 L616.9,486.6 L618.6,480.2 L620.4,477.8 L622.2,475.0 L623.8,477.1 L625.3,476.2 L626.9,480.6 L628.4,482.1 L630.0,481.7 L632.2,466.5 L634.4,453.9 L635.9,448.4 L637.4,445.8 L638.9,445.0 L640.7,445.2 L642.6,443.5 L644.4,432.8 L646.3,430.2 L648.1,429.4 L650.0,436.1 L651.6,444.3 L653.3,451.7 L655.5,433.8 L657.7,416.1 L659.0,469.4 L660.6,468.9 L662.3,471.5 L663.9,471.7 L665.6,471.7 L667.2,471.9 L668.9,471.8 L670.6,470.6 L672.8,495.8 L675.0,525.0 L677.2,533.3 L678.9,536.9 L680.5,536.0 L682.2,539.2 L683.9,537.8 L685.6,547.9 L687.2,555.5 L688.9,563.7 L690.6,571.1 L692.8,567.8 L695.0,564.4 L697.2,556.4 L699.4,555.6 L700.9,552.9 L702.4,552.8 L703.9,551.1 L706.1,540.2 L708.3,535.6 L710.0,520.2 L711.7,511.7 L713.9,517.7 L716.1,520.6 L717.8,532.2 L719.4,540.0 L720.9,535.1 L722.4,535.0 L723.9,533.3 L725.6,538.1 L727.2,545.1 L728.9,548.7 L730.6,553.3 L732.8,567.4 L735.0,582.2 L737.2,574.0 L739.4,568.9 L740.9,568.3 L742.4,567.3 L743.9,566.7 L746.1,569.8 L748.3,575.6 L749.8,585.8 L751.3,595.8 L752.8,608.9 L754.5,587.6 L756.1,564.4 L758.3,540.0 L760.0,548.0 L761.7,560.0 L763.9,550.0 L766.1,546.7 L768.0,545.0 L769.8,549.0 L771.7,548.9 L773.4,559.1 L775.0,571.1 L777.2,566.7 L779.4,560.0 L780.9,570.5 L782.4,577.7 L783.9,586.7 L786.1,575.9 L788.3,562.2 L789.8,557.5 L791.3,550.9 L792.8,544.4 L795.0,535.4 L797.2,528.9 L798.7,521.3 L800.2,511.7 L801.7,507.2 L803.9,513.6 L806.0,522.0 L807.5,529.7 L809.1,540.1 L810.6,548.9 L812.8,511.7 L814.4,509.2 L816.0,504.5 L817.6,503.4 L819.1,502.0 L820.7,497.6 L822.3,492.1 L823.9,489.4 L825.6,488.1 L827.2,480.7 L828.9,479.3 L830.6,480.6 L832.8,487.8 L835.0,493.9 L836.7,499.1 L838.4,496.9 L840.0,500.7 L841.7,498.3 L843.4,505.7 L845.0,509.3 L846.6,503.9 L848.3,507.2 L849.8,512.2 L851.3,514.6 L852.8,516.1 L855.0,520.0 L857.2,540.0 L858.9,540.4 L860.5,537.4 L862.2,534.2 L863.9,533.3 L866.0,528.1 L868.0,524.0 L869.6,534.4 L871.2,542.4 L872.8,546.7 L875.0,507.2 L876.7,511.7 L878.3,517.6 L880.0,522.0 L881.5,522.3 L883.0,521.2 L884.6,518.7 L886.1,516.1 L887.8,517.6 L889.5,519.3 L891.1,522.1 L892.8,526.7 L895.0,501.1 L897.2,478.3 L898.9,465.5 L900.5,454.8 L902.2,449.2 L903.9,440.6 L906.1,482.8 L907.6,475.4 L909.1,468.6 L910.6,467.2 L912.8,470.9 L915.0,476.1 L916.9,479.6 L918.7,481.6 L920.6,478.3 L922.2,472.6 L923.9,467.2 L925.0,469.4 L926.9,474.0 L928.7,480.5 L930.6,489.4 L932.2,487.2 L933.9,489.4 L936.1,494.7 L938.3,502.8 L939.4,526.7 L941.1,564.2 L942.8,600.0 L945.0,595.2 L947.2,594.4 L949.4,604.4 L951.1,606.1 L952.8,609.7 L954.4,613.6 L956.1,617.8 L957.6,613.9 L959.1,610.9 L960.6,611.1 L962.8,605.1 L965.0,604.4 L967.2,593.6 L969.4,586.7 L970.9,592.6 L972.4,597.0 L973.9,602.2 L975.5,590.5 L977.2,591.1 L979.1,597.2 L980.9,603.0 L982.8,608.9 L985.0,608.3 L987.2,611.1 L988.9,610.9 L990.5,605.8 L992.2,605.9 L993.9,613.3 L995.5,607.8 L997.2,600.0 L998.7,609.6 L1000.2,617.2 L1001.7,615.6 L1003.5,613.0 L1005.4,611.0 L1007.2,608.9 L1009.1,608.2 L1010.9,602.8 L1012.8,602.2 L1015.0,611.1 L1016.7,607.8 L1018.4,598.2 L1020.0,592.0 L1021.7,584.4 L1023.9,583.4 L1026.1,586.7 L1028.3,595.6 L1030.0,592.9 L1031.7,588.9 L1033.3,591.2 L1035.0,595.6 L1036.7,594.5 L1038.3,597.8 L1039.8,596.9 L1041.3,599.9 L1042.8,595.6 L1044.6,587.1 L1046.5,582.0 L1048.3,575.6 L1049.8,580.9 L1051.3,583.9 L1052.8,588.9 L1054.6,589.0 L1056.5,592.8 L1058.3,591.1 L1059.8,594.5 L1061.3,595.2 L1062.8,593.3 L1065.0,584.3 L1067.2,573.3 L1068.7,575.7 L1070.2,581.3 L1071.7,586.7 L1073.9,602.3 L1076.1,611.1 L1077.6,613.0 L1079.1,608.4 L1080.6,608.9 L1082.2,605.7 L1083.9,607.4 L1085.5,610.5 L1087.2,613.3 L1088.9,620.8 L1090.6,631.1 L1092.2,619.2 L1093.9,608.9 L1095.7,602.0 L1097.6,596.2 L1099.4,586.7 L1101.3,594.9 L1103.1,604.4 L1105.0,608.9 L1107.2,613.2 L1109.4,622.2 L1110.9,625.0 L1112.4,627.8 L1113.9,628.9 L1116.1,636.1 L1118.3,648.9 L1120.0,653.2 L1121.7,651.3 L1123.3,651.5 L1125.0,657.8 L1127.2,666.9 L1129.4,666.7 L1130.9,672.3 L1132.4,673.7 L1133.9,673.3 L1136.1,675.6" stroke="#d62728"/>
<path d="M108.3,548.9 L110.6,582.2 L112.2,582.2 L113.9,576.7 L116.1,581.1 L118.3,580.0 L119.8,576.0 L121.3,575.5 L122.8,573.3 L124.6,575.0 L126.4,572.3 L128.1,570.8 L129.9,568.4 L131.7,567.8 L133.9,567.5 L136.1,564.4 L138.0,564.3 L139.8,564.3 L141.7,566.7 L143.3,550.6 L145.0,540.0 L146.7,544.9 L148.3,554.4 L149.8,533.9 L151.3,514.3 L152.8,492.8 L155.0,548.9 L156.7,544.8 L158.3,539.7 L160.0,538.2 L161.7,535.6 L163.9,543.3 L165.7,551.0 L167.6,560.3 L169.4,564.4 L171.2,560.4 L173.0,556.2 L174.7,554.2 L176.5,553.5 L178.3,546.7 L180.0,546.6 L181.7,545.6 L183.3,543.1 L185.0,544.4 L186.8,544.2 L188.6,547.5 L190.3,549.5 L192.1,551.6 L193.9,548.9 L196.1,542.2 L197.8,544.6 L199.4,553.3 L201.1,557.0 L202.8,564.4 L204.5,565.9 L206.1,561.3 L207.8,563.6 L209.4,566.7 L211.3,560.4 L213.1,559.9 L215.0,554.4 L216.9,559.7 L218.7,566.9 L220.6,568.9 L222.4,571.2 L224.1,578.0 L225.9,578.0 L227.6,584.0 L229.4,582.2 L231.1,586.4 L232.8,591.1 L234.4,620.2 L236.1,653.3 L237.8,652.6 L239.4,648.9 L241.0,653.7 L242.5,659.2 L244.1,662.0 L245.6,668.0 L247.2,675.6 L249.1,672.5 L250.9,668.2 L252.8,666.7 L254.6,662.0 L256.5,652.0 L258.3,651.1 L260.0,656.6 L261.7,660.0 L263.2,654.0 L264.8,651.9 L266.3,644.7 L267.9,637.7 L269.4,633.3 L271.2,636.2 L273.0,641.3 L274.7,646.5 L276.5,649.0 L278.3,653.3 L279.8,650.2 L281.3,650.3 L282.8,648.9 L284.6,647.9 L286.4,641.0 L288.1,637.4 L289.9,635.0 L291.7,635.6 L293.9,628.5 L296.1,615.6 L298.0,606.7 L299.8,595.1 L301.7,580.0 L303.5,586.0 L305.4,587.5 L307.2,593.3 L308.7,602.8 L310.2,608.4 L311.7,615.6 L313.4,611.8 L315.0,614.2 L316.6,607.7 L318.3,606.7 L320.0,607.1 L321.6,604.1 L323.3,599.2 L325.0,597.8 L327.2,602.5 L329.4,606.7 L331.1,603.9 L332.8,603.9 L334.4,601.7 L336.1,602.2 L337.7,594.2 L339.2,595.5 L340.8,587.4 L342.3,583.6 L343.9,575.6 L345.7,584.1 L347.6,593.4 L349.4,600.0 L351.3,592.9 L353.1,587.0 L355.0,585.6 L356.6,593.4 L358.3,615.6 L359.8,620.9 L361.3,625.8 L362.8,628.9 L365.0,621.2 L367.2,617.8 L368.7,625.1 L370.2,631.6 L371.7,635.6 L373.5,637.4 L375.3,630.6 L377.0,626.2 L378.8,621.2 L380.6,613.3 L382.1,616.6 L383.6,616.7 L385.2,616.5 L386.7,617.8 L388.4,622.0 L390.0,626.6 L391.6,625.6 L393.3,628.9 L395.0,622.6 L396.6,619.7 L398.3,620.1 L400.0,613.3 L401.8,613.4 L403.6,609.9 L405.3,613.1 L407.1,614.7 L408.9,613.3 L410.6,619.7 L412.2,620.4 L413.9,625.5 L415.6,622.2 L417.4,616.8 L419.1,614.0 L420.9,608.7 L422.6,600.9 L424.4,597.8 L426.1,588.6 L427.8,583.3 L429.4,576.3 L431.1,564.4 L432.6,566.5 L434.1,571.0 L435.6,571.1 L437.8,582.2 L440.0,588.9 L442.2,597.7 L444.4,602.2 L446.1,603.7 L447.8,604.4 L449.4,602.8 L451.1,604.4 L452.8,596.9 L454.5,590.1 L456.1,581.4 L457.8,575.6 L459.4,581.4 L461.1,588.8 L462.8,595.9 L464.4,602.2 L466.2,602.2 L468.0,596.9 L469.7,594.3 L471.5,593.2 L473.3,591.1 L474.9,585.4 L476.4,581.6 L478.0,575.7 L479.5,573.5 L481.1,566.7 L482.7,570.1 L484.2,571.4 L485.8,577.5 L487.3,584.4 L488.9,584.4 L490.6,581.7 L492.2,583.5 L493.9,585.1 L495.6,586.7 L497.4,587.3 L499.1,588.1 L500.9,584.6 L502.6,579.3 L504.4,580.0 L506.3,578.8 L508.1,578.1 L510.0,573.3 L511.6,581.4 L513.1,587.6 L514.7,592.2 L516.2,604.3 L517.8,606.7 L519.4,603.9 L521.1,600.5 L522.8,603.1 L524.4,602.2 L526.1,597.2 L527.8,592.8 L529.4,587.2 L531.1,580.0 L532.9,584.6 L534.7,586.7 L536.4,584.2 L538.2,586.4 L540.0,584.4 L541.8,581.4 L543.6,577.7 L545.3,581.1 L547.1,579.1 L548.9,578.9 L550.7,576.4 L552.5,580.4 L554.2,582.2 L556.0,586.5 L557.8,588.9 L559.4,589.4 L561.0,588.5 L562.6,588.5 L564.1,591.7 L565.7,590.3 L567.3,592.0 L568.9,593.3 L570.7,589.4 L572.5,589.5 L574.2,591.5 L576.0,589.3 L577.8,584.4 L580.0,597.8 L581.8,598.9 L583.6,597.4 L585.3,593.1 L587.1,591.5 L588.9,591.1 L590.5,591.6 L592.1,592.9 L593.7,591.8 L595.2,593.8 L596.8,592.5 L598.4,593.5 L600.0,594.4 L602.2,594.9 L604.4,595.6 L605.9,588.1 L607.4,586.0 L608.9,580.0 L610.7,582.0 L612.5,583.9 L614.2,585.5 L616.0,583.0 L617.8,588.9 L619.5,585.9 L621.1,586.3 L622.8,590.5 L624.5,589.9 L626.1,592.3 L627.8,590.5 L629.4,590.1 L631.1,593.3 L632.6,587.5 L634.1,585.8 L635.6,580.0 L637.2,572.8 L638.8,569.7 L640.4,567.3 L641.9,563.6 L643.5,559.4 L645.1,556.8 L646.7,551.1 L648.9,548.6 L651.1,544.4 L652.6,537.4 L654.1,534.3 L655.6,528.9 L658.3,528.9 L660.0,535.1 L661.7,544.4 L663.4,545.1 L665.0,550.2 L666.6,555.7 L668.3,551.1 L670.0,550.1 L671.7,541.1 L673.4,545.4 L675.0,546.7 L677.2,560.0 L679.0,557.9 L680.8,556.3 L682.5,560.1 L684.3,559.2 L686.1,556.7 L687.6,555.3 L689.1,560.7 L690.6,560.0 L692.8,555.9 L695.0,548.9 L697.2,546.3 L699.4,537.8 L701.2,535.6 L703.0,527.1 L704.7,523.7 L706.5,521.4 L708.3,520.0 L710.6,498.3 L712.2,501.2 L713.9,507.8 L715.6,508.6 L717.2,511.7 L718.9,509.3 L720.5,507.1 L722.2,504.8 L723.9,502.8 L725.6,505.1 L727.2,508.1 L728.9,509.0 L730.6,520.6 L732.8,523.1 L735.0,526.7 L736.8,526.7 L738.6,527.7 L740.3,526.0 L742.1,527.4 L743.9,528.9 L745.7,529.0 L747.5,530.1 L749.2,534.5 L751.0,538.5 L752.8,540.0 L755.0,531.3 L757.2,520.0 L759.4,498.3 L761.1,493.9 L762.8,488.7 L764.4,487.4 L766.1,480.6 L767.8,484.6 L769.5,483.1 L771.1,481.9 L772.8,485.0 L774.4,487.7 L776.1,490.3 L777.8,490.3 L779.4,493.9 L781.1,493.8 L782.8,483.2 L784.4,477.9 L786.1,476.1 L787.8,475.6 L789.5,477.0 L791.1,471.8 L792.8,473.9 L794.6,461.9 L796.5,454.6 L798.3,441.7 L799.9,448.2 L801.4,449.6 L803.0,452.4 L804.5,453.6 L806.1,458.3 L807.6,457.4 L809.1,453.6 L810.6,453.9 L812.8,457.3 L815.0,469.4 L816.8,463.9 L818.6,463.9 L820.3,460.4 L822.1,462.6 L823.9,460.6 L825.6,462.7 L827.2,462.9 L828.9,462.1 L830.6,458.3 L832.2,462.8 L833.9,463.8 L835.6,466.2 L837.2,465.0 L838.8,466.3 L840.4,467.1 L842.0,463.8 L843.5,462.7 L845.1,461.3 L846.7,464.1 L848.3,463.9 L850.0,464.7 L851.6,462.3 L853.3,460.5 L855.0,462.8 L856.8,457.7 L858.6,456.6 L860.3,452.4 L862.1,448.2 L863.9,445.0 L866.1,438.0 L868.3,433.9 L870.0,431.8 L871.6,433.5 L873.3,429.1 L875.0,427.2 L877.2,431.0 L879.4,436.1 L881.1,432.2 L882.8,424.9 L884.4,414.0 L886.1,407.2 L887.6,413.8 L889.1,414.8 L890.6,420.6 L892.8,410.4 L895.0,398.3 L896.7,393.9 L898.4,394.7 L900.0,399.3 L901.7,400.6 L903.4,412.6 L905.0,427.2 L906.6,436.6 L908.3,449.4 L910.1,449.2 L911.9,449.3 L913.6,448.4 L915.4,447.5 L917.2,449.4 L919.0,453.2 L920.8,455.2 L922.5,454.1 L924.3,450.8 L926.1,451.7 L927.6,452.0 L929.1,453.4 L930.6,456.1 L931.7,467.2 L933.9,455.9 L936.1,442.8 L938.3,436.1 L940.0,438.3 L941.6,434.7 L943.3,433.5 L945.0,431.7 L946.7,428.2 L948.4,426.0 L950.0,421.9 L951.7,420.6 L953.9,427.2 L955.7,427.0 L957.5,428.2 L959.2,425.3 L961.0,423.4 L962.8,422.8 L964.4,417.5 L966.1,409.2 L967.8,408.4 L969.4,400.6 L971.3,390.9 L973.1,383.8 L975.0,378.3 L977.2,374.6 L979.4,375.0 L981.3,379.3 L983.2,378.3 L983.9,392.8 L985.5,391.5 L987.0,390.5 L988.6,394.5 L990.1,392.5 L991.7,390.6 L993.9,385.4 L996.1,382.8 L997.6,384.4 L999.1,386.8 L1000.6,388.3 L1002.2,391.9 L1003.9,398.3 L1005.5,398.2 L1007.0,398.5 L1008.6,400.7 L1010.1,402.3 L1011.7,400.6 L1013.9,407.0 L1016.1,409.4 L1017.9,410.8 L1019.7,413.8 L1021.4,413.9 L1023.2,417.4 L1025.0,416.1 L1027.2,411.3 L1029.4,403.9 L1031.1,402.1 L1032.8,403.8 L1034.4,398.7 L1036.1,399.4 L1038.3,411.7 L1040.0,405.2 L1041.7,400.1 L1043.3,396.6 L1045.0,393.9 L1046.7,391.4 L1048.3,390.5 L1050.0,388.8 L1051.7,392.0 L1053.3,392.1 L1055.0,398.2 L1056.6,398.9 L1058.3,396.1 L1060.2,397.3 L1062.0,403.7 L1063.9,405.0 L1066.1,394.4 L1068.3,382.8 L1070.0,379.0 L1071.7,370.6 L1073.5,378.4 L1075.4,391.1 L1077.2,399.4 L1078.9,398.0 L1080.6,391.7 L1082.2,392.4 L1083.9,392.0 L1085.5,393.2 L1087.2,396.1 L1088.9,404.1 L1090.6,416.6 L1092.2,425.8 L1093.9,427.2 L1096.1,434.6 L1098.3,433.9 L1100.1,434.6 L1101.9,434.3 L1103.6,435.7 L1105.4,435.4 L1107.2,436.1 L1109.4,442.8 L1111.1,441.3 L1112.8,440.8 L1114.4,442.4 L1116.1,440.6 L1118.3,431.7 L1120.1,433.6 L1121.9,436.2 L1123.6,437.4 L1125.4,439.2 L1127.2,441.7 L1128.9,438.2 L1130.6,438.3 L1132.2,435.0 L1133.9,430.6 L1135.6,435.5 L1137.2,433.9" stroke="#9467bd"/>
<path d="M108.3,416.0 L110.6,443.9 L151.7,443.9 L152.8,468.3 L166.1,468.3 L167.2,442.8 L196.1,442.8 L197.2,488.3 L213.9,488.3 L215.0,445.0 L283.9,445.0 L285.0,417.9 L340.6,417.9 L341.0,395.7 L353.9,395.7 L355.0,369.9 L360.6,369.9 L361.7,401.0 L413.3,401.0 L414.4,378.8 L419.6,378.8 L420.4,490.6 L443.3,490.6 L444.4,513.9 L445.1,482.8 L458.9,482.8 L459.6,506.1 L466.2,506.1 L467.3,461.0 L498.9,461.0 L500.0,436.1 L502.0,435.0 L503.3,405.4 L507.8,405.0 L508.2,428.3 L508.9,403.2 L511.1,406.1 L566.7,406.1 L568.4,377.2 L601.1,377.2 L602.2,406.1 L656.7,406.1 L657.7,445.0 L665.0,445.0 L667.2,423.2 L799.4,423.2 L801.2,398.8 L862.8,398.8 L863.9,375.7 L868.3,375.7 L869.4,436.1 L875.0,436.1 L876.1,459.4 L902.8,459.4 L905.0,482.8 L920.6,482.8 L921.7,460.6 L933.9,460.6 L936.1,482.8 L1012.8,482.8 L1013.9,628.9 L1021.7,628.9 L1022.8,653.3 L1023.9,675.6 L1137.0,675.6" stroke="#8c564b"/>
</g>
<line x1="107.5" x2="107.5" y1="368.9" y2="676.6" stroke="#333" stroke-width="1.5"/>
<line x1="102" x2="1139" y1="676.6" y2="676.6" stroke="#333" stroke-width="1.6"/>
<line x1="101.7" x2="107.5" y1="676.6" y2="676.6" stroke="#222" stroke-width="1.2"/>
<text x="94.6" y="679.4" text-anchor="end" font-size="11" textLength="22.6" lengthAdjust="spacingAndGlyphs" fill="#555">0.00</text>
<line x1="101.7" x2="107.5" y1="615.2" y2="615.2" stroke="#222" stroke-width="1.2"/>
<text x="97.3" y="618.0" text-anchor="end" font-size="11" textLength="47.6" lengthAdjust="spacingAndGlyphs" fill="#555">200.00 m</text>
<line x1="101.7" x2="107.5" y1="553.7" y2="553.7" stroke="#222" stroke-width="1.2"/>
<text x="97.3" y="556.5" text-anchor="end" font-size="11" textLength="47.6" lengthAdjust="spacingAndGlyphs" fill="#555">400.00 m</text>
<line x1="101.7" x2="107.5" y1="492.3" y2="492.3" stroke="#222" stroke-width="1.2"/>
<text x="97.3" y="495.1" text-anchor="end" font-size="11" textLength="47.6" lengthAdjust="spacingAndGlyphs" fill="#555">600.00 m</text>
<line x1="101.7" x2="107.5" y1="430.8" y2="430.8" stroke="#222" stroke-width="1.2"/>
<text x="97.3" y="433.6" text-anchor="end" font-size="11" textLength="47.6" lengthAdjust="spacingAndGlyphs" fill="#555">800.00 m</text>
<line x1="101.7" x2="107.5" y1="369.4" y2="369.4" stroke="#222" stroke-width="1.2"/>
<text x="94.6" y="372.2" text-anchor="end" font-size="11" textLength="22.6" lengthAdjust="spacingAndGlyphs" fill="#555">1.00</text>
<line x1="104" x2="107.5" y1="664.3" y2="664.3" stroke="#222" stroke-width="1"/>
<line x1="104" x2="107.5" y1="652.0" y2="652.0" stroke="#222" stroke-width="1"/>
<line x1="104" x2="107.5" y1="639.7" y2="639.7" stroke="#222" stroke-width="1"/>
<line x1="104" x2="107.5" y1="627.4" y2="627.4" stroke="#222" stroke-width="1"/>
<line x1="104" x2="107.5" y1="602.9" y2="602.9" stroke="#222" stroke-width="1"/>
<line x1="104" x2="107.5" y1="590.6" y2="590.6" stroke="#222" stroke-width="1"/>
<line x1="104" x2="107.5" y1="578.3" y2="578.3" stroke="#222" stroke-width="1"/>
<line x1="104" x2="107.5" y1="566.0" y2="566.0" stroke="#222" stroke-width="1"/>
<line x1="104" x2="107.5" y1="541.4" y2="541.4" stroke="#222" stroke-width="1"/>
<line x1="104" x2="107.5" y1="529.1" y2="529.1" stroke="#222" stroke-width="1"/>
<line x1="104" x2="107.5" y1="516.9" y2="516.9" stroke="#222" stroke-width="1"/>
<line x1="104" x2="107.5" y1="504.6" y2="504.6" stroke="#222" stroke-width="1"/>
<line x1="104" x2="107.5" y1="480.0" y2="480.0" stroke="#222" stroke-width="1"/>
<line x1="104" x2="107.5" y1="467.7" y2="467.7" stroke="#222" stroke-width="1"/>
<line x1="104" x2="107.5" y1="455.4" y2="455.4" stroke="#222" stroke-width="1"/>
<line x1="104" x2="107.5" y1="443.1" y2="443.1" stroke="#222" stroke-width="1"/>
<line x1="104" x2="107.5" y1="418.6" y2="418.6" stroke="#222" stroke-width="1"/>
<line x1="104" x2="107.5" y1="406.3" y2="406.3" stroke="#222" stroke-width="1"/>
<line x1="104" x2="107.5" y1="394.0" y2="394.0" stroke="#222" stroke-width="1"/>
<line x1="104" x2="107.5" y1="381.7" y2="381.7" stroke="#222" stroke-width="1"/>
<line x1="266.3" x2="266.3" y1="676.6" y2="681.8" stroke="#222" stroke-width="1.2"/>
<text x="266.3" y="692.5" text-anchor="middle" font-size="11.2" textLength="21.5" lengthAdjust="spacingAndGlyphs" fill="#555">3/25</text>
<line x1="485.4" x2="485.4" y1="676.6" y2="681.8" stroke="#222" stroke-width="1.2"/>
<text x="485.4" y="692.5" text-anchor="middle" font-size="11.2" textLength="21.5" lengthAdjust="spacingAndGlyphs" fill="#555">3/28</text>
<line x1="777.5" x2="777.5" y1="676.6" y2="681.8" stroke="#222" stroke-width="1.2"/>
<text x="777.5" y="692.5" text-anchor="middle" font-size="11.2" textLength="21.5" lengthAdjust="spacingAndGlyphs" fill="#555">4/01</text>
<line x1="996.6" x2="996.6" y1="676.6" y2="681.8" stroke="#222" stroke-width="1.2"/>
<text x="996.6" y="692.5" text-anchor="middle" font-size="11.2" textLength="21.5" lengthAdjust="spacingAndGlyphs" fill="#555">4/04</text>
<text x="590.2" y="710.6" font-style="italic" font-size="12.3" textLength="66" lengthAdjust="spacingAndGlyphs" fill="#555">Date (UTC)</text>
<text transform="translate(30.5,521.7) rotate(-90)" text-anchor="middle" font-style="italic" font-size="13.2" textLength="119" lengthAdjust="spacingAndGlyphs" fill="#555">Norm. CVD (arb. u.)</text>
<rect x="1139.7" y="539.5" width="123" height="137.5" fill="#fff" fill-opacity="0.85" stroke="#ececec" stroke-width="1"/>
<line x1="1146.7" x2="1164.7" y1="556.8" y2="556.8" stroke="#1f77b4" stroke-width="2"/>
<text x="1169.5" y="560.1" font-size="12" textLength="55.6" lengthAdjust="spacingAndGlyphs" fill="#555">all orders</text>
<line x1="1146.7" x2="1164.7" y1="577.1" y2="577.1" stroke="#ff7f0e" stroke-width="2"/>
<text x="1169.5" y="580.4" font-size="12" textLength="69.5" lengthAdjust="spacingAndGlyphs" fill="#555">$100 to $1k</text>
<line x1="1146.7" x2="1164.7" y1="597.5" y2="597.5" stroke="#2ca02c" stroke-width="2"/>
<text x="1169.5" y="600.8" font-size="12" textLength="69.5" lengthAdjust="spacingAndGlyphs" fill="#555">$1k to $10k</text>
<line x1="1146.7" x2="1164.7" y1="617.8" y2="617.8" stroke="#d62728" stroke-width="2"/>
<text x="1169.5" y="621.1" font-size="12" textLength="84.2" lengthAdjust="spacingAndGlyphs" fill="#555">$10k to $100k</text>
<line x1="1146.7" x2="1164.7" y1="638.2" y2="638.2" stroke="#9467bd" stroke-width="2"/>
<text x="1169.5" y="641.5" font-size="12" textLength="81.4" lengthAdjust="spacingAndGlyphs" fill="#555">$100k to $1M</text>
<line x1="1146.7" x2="1164.7" y1="658.5" y2="658.5" stroke="#8c564b" stroke-width="2"/>
<text x="1169.5" y="661.8" font-size="12" textLength="78.6" lengthAdjust="spacingAndGlyphs" fill="#555">$1M to $10M</text>
</svg></body></html>
